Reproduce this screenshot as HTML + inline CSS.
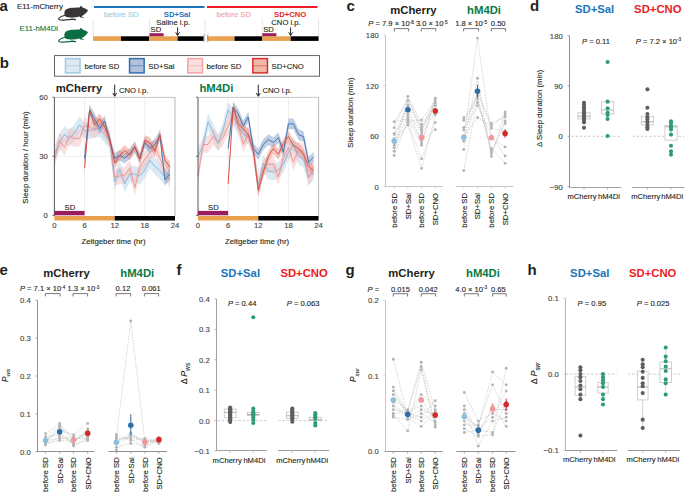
<!DOCTYPE html>
<html><head><meta charset="utf-8"><title>Figure</title><style>html,body{margin:0;padding:0;background:#fff;width:685px;height:492px;overflow:hidden}svg{display:block;font-family:"Liberation Sans",sans-serif}</style></head><body>
<svg width="685" height="492" viewBox="0 0 685 492">
<rect width="685" height="492" fill="#fff"/>
<text x="-0.60" y="10.90" font-family="Liberation Sans" font-size="15" fill="#231f20" font-weight="bold">a</text>
<text x="17.00" y="9.20" font-family="Liberation Sans" font-size="7.8" fill="#231f20" stroke="#231f20" stroke-width="0.12">E11-mCherry</text>
<text x="19.60" y="31.00" font-family="Liberation Sans" font-size="7.8" fill="#0a7a45" stroke="#0a7a45" stroke-width="0.12">E11-hM4Di</text>
<g transform="translate(55,4.0) scale(0.05255)"><path d="M628 125C610 100 575 85 545 78L520 60L500 40L484 38L476 55L470 68C420 70 330 70 270 80C220 88 190 110 180 150C172 190 185 230 215 248C260 262 330 258 400 250L470 240L484 258L548 264L552 250L508 245L514 228C552 210 600 175 628 125Z" fill="#393536"/><path d="M195 215C140 230 80 255 70 280C62 305 120 312 200 302C270 293 330 285 392 297" fill="none" stroke="#393536" stroke-width="22" stroke-linecap="round"/><path d="M290 250L395 290L385 300L300 278Z" fill="#393536" opacity="0.5"/></g>
<g transform="translate(55,26.0) scale(0.05255)"><path d="M628 125C610 100 575 85 545 78L520 60L500 40L484 38L476 55L470 68C420 70 330 70 270 80C220 88 190 110 180 150C172 190 185 230 215 248C260 262 330 258 400 250L470 240L484 258L548 264L552 250L508 245L514 228C552 210 600 175 628 125Z" fill="#0b6d43"/><path d="M195 215C140 230 80 255 70 280C62 305 120 312 200 302C270 293 330 285 392 297" fill="none" stroke="#0b6d43" stroke-width="22" stroke-linecap="round"/><path d="M290 250L395 290L385 300L300 278Z" fill="#0b6d43" opacity="0.5"/></g>
<line x1="94.00" y1="7.00" x2="204.50" y2="7.00" stroke="#1a75bc" stroke-width="2.1"/>
<line x1="207.00" y1="7.00" x2="317.50" y2="7.00" stroke="#ec1c24" stroke-width="2.1"/>
<text x="104.00" y="16.70" font-family="Liberation Sans" font-size="7.7" fill="#9ccbe6" stroke="#9ccbe6" stroke-width="0.12">before SD</text>
<text x="163.80" y="16.70" font-family="Liberation Sans" font-size="7.7" fill="#1a75bc" font-weight="bold">SD+Sal</text>
<text x="216.40" y="16.70" font-family="Liberation Sans" font-size="7.7" fill="#f4a0a3" stroke="#f4a0a3" stroke-width="0.12">before SD</text>
<text x="274.00" y="16.70" font-family="Liberation Sans" font-size="7.7" fill="#ec1c24" font-weight="bold">SD+CNO</text>
<line x1="93.20" y1="19.00" x2="93.20" y2="36.60" stroke="#9a9a9a" stroke-width="0.6" stroke-dasharray="0.8 1.2"/>
<line x1="149.50" y1="19.00" x2="149.50" y2="36.60" stroke="#9a9a9a" stroke-width="0.6" stroke-dasharray="0.8 1.2"/>
<line x1="205.00" y1="19.00" x2="205.00" y2="36.60" stroke="#9a9a9a" stroke-width="0.6" stroke-dasharray="0.8 1.2"/>
<line x1="262.30" y1="19.00" x2="262.30" y2="36.60" stroke="#9a9a9a" stroke-width="0.6" stroke-dasharray="0.8 1.2"/>
<line x1="318.60" y1="19.00" x2="318.60" y2="36.60" stroke="#9a9a9a" stroke-width="0.6" stroke-dasharray="0.8 1.2"/>
<text x="156.30" y="25.20" font-family="Liberation Sans" font-size="7.7" fill="#231f20" stroke="#231f20" stroke-width="0.12">Saline i.p.</text>
<text x="271.30" y="25.20" font-family="Liberation Sans" font-size="7.7" fill="#231f20" stroke="#231f20" stroke-width="0.12">CNO i.p.</text>
<text x="150.60" y="32.00" font-family="Liberation Sans" font-size="7.7" fill="#231f20" stroke="#231f20" stroke-width="0.12">SD</text>
<text x="263.20" y="32.00" font-family="Liberation Sans" font-size="7.7" fill="#231f20" stroke="#231f20" stroke-width="0.12">SD</text>
<rect x="149.50" y="33.20" width="14.10" height="3.30" fill="#9c1d5f"/>
<rect x="262.30" y="33.20" width="14.10" height="3.30" fill="#9c1d5f"/>
<line x1="177.60" y1="27.30" x2="177.60" y2="35.10" stroke="#111" stroke-width="0.9"/>
<path d="M175.70 32.30L177.60 35.60L179.50 32.30" fill="none" stroke="#111" stroke-width="0.9"/>
<line x1="290.60" y1="27.30" x2="290.60" y2="35.10" stroke="#111" stroke-width="0.9"/>
<path d="M288.70 32.30L290.60 35.60L292.50 32.30" fill="none" stroke="#111" stroke-width="0.9"/>
<rect x="93.00" y="36.30" width="28.00" height="4.60" fill="#e9a04f"/>
<rect x="121.00" y="36.30" width="28.30" height="4.60" fill="#000"/>
<rect x="149.30" y="36.30" width="28.30" height="4.60" fill="#e9a04f"/>
<rect x="177.60" y="36.30" width="26.00" height="4.60" fill="#000"/>
<rect x="207.20" y="36.30" width="27.30" height="4.60" fill="#e9a04f"/>
<rect x="234.50" y="36.30" width="27.80" height="4.60" fill="#000"/>
<rect x="262.30" y="36.30" width="28.30" height="4.60" fill="#e9a04f"/>
<rect x="290.60" y="36.30" width="28.00" height="4.60" fill="#000"/>
<path d="M204.4 34.2C203.2 36.5 205.2 39.5 204.0 42.3M208.0 34.2C206.8 36.5 208.8 39.5 207.6 42.3" fill="none" stroke="#666" stroke-width="0.55"/>
<text x="-0.30" y="67.90" font-family="Liberation Sans" font-size="15" fill="#231f20" font-weight="bold">b</text>
<rect x="54.5" y="55.6" width="265" height="20.6" fill="none" stroke="#555" stroke-width="0.9"/>
<rect x="65.45" y="58.6" width="14.6" height="14.3" fill="#dde9f3" stroke="#9ccbe0" stroke-width="1.5"/>
<line x1="66.20" y1="65.75" x2="79.30" y2="65.75" stroke="#a9cbe0" stroke-width="0.8"/>
<rect x="129.55" y="58.6" width="14.6" height="14.3" fill="#b3c0dc" stroke="#2e70ae" stroke-width="1.5"/>
<line x1="130.30" y1="65.75" x2="143.40" y2="65.75" stroke="#5b80b8" stroke-width="0.8"/>
<rect x="187.85" y="58.6" width="14.6" height="14.3" fill="#fbdfdf" stroke="#f5a3a5" stroke-width="1.5"/>
<line x1="188.60" y1="65.75" x2="201.70" y2="65.75" stroke="#f5b0b2" stroke-width="0.8"/>
<rect x="252.85" y="58.6" width="14.6" height="14.3" fill="#f0b9a8" stroke="#d92e2e" stroke-width="1.5"/>
<line x1="253.60" y1="65.75" x2="266.70" y2="65.75" stroke="#d95a4a" stroke-width="0.8"/>
<text x="84.60" y="69.10" font-family="Liberation Sans" font-size="7.7" fill="#231f20" stroke="#231f20" stroke-width="0.12">before SD</text>
<text x="148.30" y="69.10" font-family="Liberation Sans" font-size="7.7" fill="#231f20" stroke="#231f20" stroke-width="0.12">SD+Sal</text>
<text x="206.60" y="69.10" font-family="Liberation Sans" font-size="7.7" fill="#231f20" stroke="#231f20" stroke-width="0.12">before SD</text>
<text x="271.50" y="69.10" font-family="Liberation Sans" font-size="7.7" fill="#231f20" stroke="#231f20" stroke-width="0.12">SD+CNO</text>
<line x1="84.55" y1="97.50" x2="84.55" y2="216.00" stroke="#e6e6e6" stroke-width="0.7"/>
<line x1="114.70" y1="97.50" x2="114.70" y2="216.00" stroke="#e6e6e6" stroke-width="0.7"/>
<line x1="144.85" y1="97.50" x2="144.85" y2="216.00" stroke="#e6e6e6" stroke-width="0.7"/>
<line x1="54.40" y1="156.29" x2="175.00" y2="156.29" stroke="#e6e6e6" stroke-width="0.7"/>
<line x1="54.40" y1="97.40" x2="175.00" y2="97.40" stroke="#bdbdbd" stroke-width="0.9"/>
<line x1="175.00" y1="97.40" x2="175.00" y2="216.00" stroke="#b0b0b0" stroke-width="0.9"/>
<polygon points="54.40,146.06 59.42,134.26 64.45,126.39 69.47,130.33 74.50,124.42 79.53,116.56 84.55,122.46 89.58,122.46 94.60,120.49 99.62,120.49 104.65,126.39 109.68,132.29 114.70,173.60 119.72,160.81 124.75,175.57 129.78,165.73 134.80,165.73 139.83,167.70 144.85,161.80 149.88,151.96 154.90,157.86 159.93,162.78 164.95,168.68 169.97,163.76 169.97,180.29 164.95,185.20 159.93,179.30 154.90,174.39 149.88,168.49 144.85,178.32 139.83,184.22 134.80,182.25 129.78,182.25 124.75,192.09 119.72,177.34 114.70,190.12 109.68,148.82 104.65,142.91 99.62,137.01 94.60,137.01 89.58,138.98 84.55,138.98 79.53,133.08 74.50,140.95 69.47,146.85 64.45,142.91 59.42,150.78 54.40,162.58" fill="#aed0e7" fill-opacity="0.45"/>
<polygon points="54.40,151.96 59.42,132.29 64.45,139.18 69.47,127.38 74.50,130.33 79.53,130.33 84.55,117.54 89.58,118.52 94.60,122.46 99.62,116.56 104.65,122.46 109.68,130.33 114.70,168.68 119.72,167.70 124.75,166.72 129.78,159.83 134.80,179.50 139.83,158.85 144.85,150.98 149.88,144.09 154.90,138.19 159.93,150.00 164.95,161.80 169.97,171.63 169.97,188.16 164.95,178.32 159.93,166.52 154.90,154.72 149.88,160.62 144.85,167.50 139.83,175.37 134.80,196.02 129.78,176.35 124.75,183.24 119.72,184.22 114.70,185.20 109.68,146.85 104.65,138.98 99.62,133.08 94.60,138.98 89.58,135.05 84.55,134.06 79.53,146.85 74.50,146.85 69.47,143.90 64.45,155.70 59.42,148.82 54.40,168.49" fill="#f6baba" fill-opacity="0.45"/>
<polygon points="84.55,152.95 89.58,104.75 94.60,113.61 99.62,123.44 104.65,115.57 109.68,135.24 114.70,152.95 119.72,150.00 124.75,152.95 129.78,148.03 134.80,142.13 139.83,152.95 144.85,137.21 149.88,143.11 154.90,139.18 159.93,130.33 164.95,174.58 169.97,168.68 169.97,179.30 164.95,185.20 159.93,140.95 154.90,149.80 149.88,153.73 144.85,147.83 139.83,163.57 134.80,152.75 129.78,158.65 124.75,163.57 119.72,160.62 114.70,163.57 109.68,145.86 104.65,126.19 99.62,134.06 94.60,124.23 89.58,115.38 84.55,163.57" fill="#7f9bc9" fill-opacity="0.5"/>
<polygon points="84.55,162.78 89.58,104.75 94.60,119.51 99.62,113.61 104.65,121.47 109.68,133.28 114.70,157.86 119.72,150.00 124.75,145.08 129.78,150.00 134.80,141.14 139.83,153.93 144.85,135.24 149.88,137.21 154.90,146.06 159.93,129.34 164.95,154.91 169.97,161.80 169.97,172.42 164.95,165.53 159.93,139.96 154.90,156.68 149.88,147.83 144.85,145.86 139.83,164.55 134.80,151.77 129.78,160.62 124.75,155.70 119.72,160.62 114.70,168.49 109.68,143.90 104.65,132.10 99.62,124.23 94.60,130.13 89.58,115.38 84.55,173.40" fill="#e69080" fill-opacity="0.5"/>
<polyline points="54.40,154.32 59.42,142.52 64.45,134.65 69.47,138.59 74.50,132.69 79.53,124.82 84.55,130.72 89.58,130.72 94.60,128.75 99.62,128.75 104.65,134.65 109.68,140.55 114.70,181.86 119.72,169.08 124.75,183.83 129.78,173.99 134.80,173.99 139.83,175.96 144.85,170.06 149.88,160.22 154.90,166.12 159.93,171.04 164.95,176.94 169.97,172.03" fill="none" stroke="#84b6d8" stroke-width="0.9" stroke-linejoin="round"/>
<polyline points="54.40,160.22 59.42,140.55 64.45,147.44 69.47,135.64 74.50,138.59 79.53,138.59 84.55,125.80 89.58,126.79 94.60,130.72 99.62,124.82 104.65,130.72 109.68,138.59 114.70,176.94 119.72,175.96 124.75,174.98 129.78,168.09 134.80,187.76 139.83,167.11 144.85,159.24 149.88,152.36 154.90,146.46 159.93,158.26 164.95,170.06 169.97,179.89" fill="none" stroke="#ee9090" stroke-width="0.9" stroke-linejoin="round"/>
<polyline points="84.55,158.26 89.58,110.07 94.60,118.92 99.62,128.75 104.65,120.88 109.68,140.55 114.70,158.26 119.72,155.31 124.75,158.26 129.78,153.34 134.80,147.44 139.83,158.26 144.85,142.52 149.88,148.42 154.90,144.49 159.93,135.64 164.95,179.89 169.97,173.99" fill="none" stroke="#3a6fae" stroke-width="0.9" stroke-linejoin="round"/>
<polyline points="84.55,168.09 89.58,110.07 94.60,124.82 99.62,118.92 104.65,126.79 109.68,138.59 114.70,163.17 119.72,155.31 124.75,150.39 129.78,155.31 134.80,146.46 139.83,159.24 144.85,140.55 149.88,142.52 154.90,151.37 159.93,134.65 164.95,160.22 169.97,167.11" fill="none" stroke="#d8483a" stroke-width="0.9" stroke-linejoin="round"/>
<line x1="54.40" y1="97.50" x2="54.40" y2="216.00" stroke="#444" stroke-width="0.9"/>
<line x1="52.40" y1="97.28" x2="54.40" y2="97.28" stroke="#444" stroke-width="0.8"/>
<line x1="52.40" y1="156.29" x2="54.40" y2="156.29" stroke="#444" stroke-width="0.8"/>
<line x1="52.40" y1="215.30" x2="54.40" y2="215.30" stroke="#444" stroke-width="0.8"/>
<text x="47.80" y="100.08" font-family="Liberation Sans" font-size="7.7" fill="#444" text-anchor="end" stroke="#444" stroke-width="0.12">60</text>
<text x="47.80" y="159.09" font-family="Liberation Sans" font-size="7.7" fill="#444" text-anchor="end" stroke="#444" stroke-width="0.12">30</text>
<text x="47.80" y="218.10" font-family="Liberation Sans" font-size="7.7" fill="#444" text-anchor="end" stroke="#444" stroke-width="0.12">0</text>
<rect x="54.40" y="210.90" width="30.15" height="4.40" fill="#9c1d5f"/>
<rect x="54.40" y="216.00" width="60.30" height="4.50" fill="#e9a04f"/>
<rect x="114.70" y="216.00" width="60.30" height="4.50" fill="#000"/>
<text x="64.50" y="210.00" font-family="Liberation Sans" font-size="7.7" fill="#231f20" stroke="#231f20" stroke-width="0.12">SD</text>
<text x="54.40" y="227.90" font-family="Liberation Sans" font-size="7.7" fill="#444" text-anchor="middle" stroke="#444" stroke-width="0.12">0</text>
<text x="84.55" y="227.90" font-family="Liberation Sans" font-size="7.7" fill="#444" text-anchor="middle" stroke="#444" stroke-width="0.12">6</text>
<text x="114.70" y="227.90" font-family="Liberation Sans" font-size="7.7" fill="#444" text-anchor="middle" stroke="#444" stroke-width="0.12">12</text>
<text x="144.85" y="227.90" font-family="Liberation Sans" font-size="7.7" fill="#444" text-anchor="middle" stroke="#444" stroke-width="0.12">18</text>
<text x="175.00" y="227.90" font-family="Liberation Sans" font-size="7.7" fill="#444" text-anchor="middle" stroke="#444" stroke-width="0.12">24</text>
<text x="113.50" y="243.90" font-family="Liberation Sans" font-size="7.8" fill="#231f20" text-anchor="middle" stroke="#231f20" stroke-width="0.12">Zeitgeber time (hr)</text>
<text x="55.80" y="91.70" font-family="Liberation Sans" font-size="11.3" fill="#231f20" font-weight="bold">mCherry</text>
<line x1="114.70" y1="84.60" x2="114.70" y2="95.80" stroke="#111" stroke-width="0.9"/>
<path d="M112.80 93.00L114.70 96.30L116.60 93.00" fill="none" stroke="#111" stroke-width="0.9"/>
<text x="118.90" y="93.20" font-family="Liberation Sans" font-size="7.7" fill="#231f20" stroke="#231f20" stroke-width="0.12">CNO i.p.</text>
<line x1="228.15" y1="97.50" x2="228.15" y2="216.00" stroke="#e6e6e6" stroke-width="0.7"/>
<line x1="258.30" y1="97.50" x2="258.30" y2="216.00" stroke="#e6e6e6" stroke-width="0.7"/>
<line x1="288.45" y1="97.50" x2="288.45" y2="216.00" stroke="#e6e6e6" stroke-width="0.7"/>
<line x1="198.00" y1="156.29" x2="318.60" y2="156.29" stroke="#e6e6e6" stroke-width="0.7"/>
<line x1="198.00" y1="97.40" x2="318.60" y2="97.40" stroke="#bdbdbd" stroke-width="0.9"/>
<line x1="318.60" y1="97.40" x2="318.60" y2="216.00" stroke="#b0b0b0" stroke-width="0.9"/>
<polygon points="198.00,148.03 203.03,137.21 208.05,113.61 213.07,123.44 218.10,135.24 223.12,121.47 228.15,101.80 233.18,108.69 238.20,118.52 243.22,126.39 248.25,127.38 253.28,140.16 258.30,176.55 263.32,154.91 268.35,162.78 273.38,163.76 278.40,161.80 283.43,155.90 288.45,144.09 293.48,136.23 298.50,148.03 303.52,150.98 308.55,168.68 313.57,163.76 313.57,180.29 308.55,185.20 303.52,167.50 298.50,164.55 293.48,152.75 288.45,160.62 283.43,172.42 278.40,178.32 273.38,180.29 268.35,179.30 263.32,171.44 258.30,193.07 253.28,156.68 248.25,143.90 243.22,142.91 238.20,135.05 233.18,125.21 228.15,118.33 223.12,138.00 218.10,151.77 213.07,139.96 208.05,130.13 203.03,153.73 198.00,164.55" fill="#aed0e7" fill-opacity="0.45"/>
<polygon points="198.00,167.70 203.03,136.23 208.05,136.23 213.07,128.36 218.10,134.26 223.12,129.34 228.15,117.54 233.18,105.74 238.20,116.56 243.22,136.23 248.25,125.41 253.28,140.16 258.30,180.48 263.32,159.83 268.35,155.90 273.38,155.90 278.40,168.68 283.43,149.01 288.45,139.18 293.48,153.93 298.50,141.14 303.52,144.09 308.55,169.67 313.57,158.85 313.57,175.37 308.55,186.19 303.52,160.62 298.50,157.67 293.48,170.45 288.45,155.70 283.43,165.53 278.40,185.20 273.38,172.42 268.35,172.42 263.32,176.35 258.30,197.01 253.28,156.68 248.25,141.93 243.22,152.75 238.20,133.08 233.18,122.26 228.15,134.06 223.12,145.86 218.10,150.78 213.07,144.88 208.05,152.75 203.03,152.75 198.00,184.22" fill="#f6baba" fill-opacity="0.45"/>
<polygon points="228.15,143.11 233.18,101.80 238.20,108.69 243.22,120.49 248.25,111.64 253.28,143.11 258.30,149.01 263.32,139.18 268.35,134.26 273.38,137.21 278.40,132.29 283.43,147.05 288.45,118.52 293.48,118.52 298.50,129.34 303.52,131.31 308.55,156.88 313.57,151.96 313.57,162.58 308.55,167.50 303.52,141.93 298.50,139.96 293.48,129.15 288.45,129.15 283.43,157.67 278.40,142.91 273.38,147.83 268.35,144.88 263.32,149.80 258.30,159.63 253.28,153.73 248.25,122.26 243.22,131.11 238.20,119.31 233.18,112.43 228.15,153.73" fill="#7f9bc9" fill-opacity="0.5"/>
<polygon points="228.15,178.52 233.18,101.80 238.20,118.52 243.22,123.44 248.25,129.34 253.28,145.08 258.30,185.40 263.32,166.72 268.35,150.98 273.38,143.11 278.40,149.01 283.43,138.19 288.45,131.31 293.48,140.16 298.50,143.11 303.52,149.01 308.55,160.81 313.57,165.73 313.57,176.35 308.55,171.44 303.52,159.63 298.50,153.73 293.48,150.78 288.45,141.93 283.43,148.82 278.40,159.63 273.38,153.73 268.35,161.60 263.32,177.34 258.30,196.02 253.28,155.70 248.25,139.96 243.22,134.06 238.20,129.15 233.18,112.43 228.15,189.14" fill="#e69080" fill-opacity="0.5"/>
<polyline points="198.00,156.29 203.03,145.47 208.05,121.87 213.07,131.70 218.10,143.50 223.12,129.74 228.15,110.07 233.18,116.95 238.20,126.79 243.22,134.65 248.25,135.64 253.28,148.42 258.30,184.81 263.32,163.17 268.35,171.04 273.38,172.03 278.40,170.06 283.43,164.16 288.45,152.36 293.48,144.49 298.50,156.29 303.52,159.24 308.55,176.94 313.57,172.03" fill="none" stroke="#84b6d8" stroke-width="0.9" stroke-linejoin="round"/>
<polyline points="198.00,175.96 203.03,144.49 208.05,144.49 213.07,136.62 218.10,142.52 223.12,137.60 228.15,125.80 233.18,114.00 238.20,124.82 243.22,144.49 248.25,133.67 253.28,148.42 258.30,188.75 263.32,168.09 268.35,164.16 273.38,164.16 278.40,176.94 283.43,157.27 288.45,147.44 293.48,162.19 298.50,149.41 303.52,152.36 308.55,177.93 313.57,167.11" fill="none" stroke="#ee9090" stroke-width="0.9" stroke-linejoin="round"/>
<polyline points="228.15,148.42 233.18,107.12 238.20,114.00 243.22,125.80 248.25,116.95 253.28,148.42 258.30,154.32 263.32,144.49 268.35,139.57 273.38,142.52 278.40,137.60 283.43,152.36 288.45,123.83 293.48,123.83 298.50,134.65 303.52,136.62 308.55,162.19 313.57,157.27" fill="none" stroke="#3a6fae" stroke-width="0.9" stroke-linejoin="round"/>
<polyline points="228.15,183.83 233.18,107.12 238.20,123.83 243.22,128.75 248.25,134.65 253.28,150.39 258.30,190.71 263.32,172.03 268.35,156.29 273.38,148.42 278.40,154.32 283.43,143.50 288.45,136.62 293.48,145.47 298.50,148.42 303.52,154.32 308.55,166.12 313.57,171.04" fill="none" stroke="#d8483a" stroke-width="0.9" stroke-linejoin="round"/>
<line x1="198.00" y1="97.50" x2="198.00" y2="216.00" stroke="#444" stroke-width="0.9"/>
<line x1="196.00" y1="97.28" x2="198.00" y2="97.28" stroke="#444" stroke-width="0.8"/>
<line x1="196.00" y1="156.29" x2="198.00" y2="156.29" stroke="#444" stroke-width="0.8"/>
<line x1="196.00" y1="215.30" x2="198.00" y2="215.30" stroke="#444" stroke-width="0.8"/>
<rect x="198.00" y="210.90" width="30.15" height="4.40" fill="#9c1d5f"/>
<rect x="198.00" y="216.00" width="60.30" height="4.50" fill="#e9a04f"/>
<rect x="258.30" y="216.00" width="60.30" height="4.50" fill="#000"/>
<text x="208.10" y="210.00" font-family="Liberation Sans" font-size="7.7" fill="#231f20" stroke="#231f20" stroke-width="0.12">SD</text>
<text x="198.00" y="227.90" font-family="Liberation Sans" font-size="7.7" fill="#444" text-anchor="middle" stroke="#444" stroke-width="0.12">0</text>
<text x="228.15" y="227.90" font-family="Liberation Sans" font-size="7.7" fill="#444" text-anchor="middle" stroke="#444" stroke-width="0.12">6</text>
<text x="258.30" y="227.90" font-family="Liberation Sans" font-size="7.7" fill="#444" text-anchor="middle" stroke="#444" stroke-width="0.12">12</text>
<text x="288.45" y="227.90" font-family="Liberation Sans" font-size="7.7" fill="#444" text-anchor="middle" stroke="#444" stroke-width="0.12">18</text>
<text x="318.60" y="227.90" font-family="Liberation Sans" font-size="7.7" fill="#444" text-anchor="middle" stroke="#444" stroke-width="0.12">24</text>
<text x="257.10" y="243.90" font-family="Liberation Sans" font-size="7.8" fill="#231f20" text-anchor="middle" stroke="#231f20" stroke-width="0.12">Zeitgeber time (hr)</text>
<text x="199.40" y="91.70" font-family="Liberation Sans" font-size="11.3" fill="#0a7a45" font-weight="bold">hM4Di</text>
<line x1="258.30" y1="84.60" x2="258.30" y2="95.80" stroke="#111" stroke-width="0.9"/>
<path d="M256.40 93.00L258.30 96.30L260.20 93.00" fill="none" stroke="#111" stroke-width="0.9"/>
<text x="262.50" y="93.20" font-family="Liberation Sans" font-size="7.7" fill="#231f20" stroke="#231f20" stroke-width="0.12">CNO i.p.</text>
<text transform="translate(28.20,157.50) rotate(-90)" font-family="Liberation Sans" font-size="7.8" fill="#231f20" stroke="#231f20" stroke-width="0.12" text-anchor="middle">Sleep duration / hour (min)</text>
<text x="346.60" y="10.90" font-family="Liberation Sans" font-size="15" fill="#231f20" font-weight="bold">c</text>
<text x="390.20" y="13.60" font-family="Liberation Sans" font-size="11.3" fill="#231f20" font-weight="bold">mCherry</text>
<text x="467.10" y="13.60" font-family="Liberation Sans" font-size="11.3" fill="#0a7a45" font-weight="bold">hM4Di</text>
<text x="368.30" y="26.00" font-family="Liberation Sans" font-size="7.6" fill="#231f20" stroke="#231f20" stroke-width="0.12"><tspan font-style="italic">P</tspan> = 7.9 × 10<tspan dy="-2.3" font-size="4.6">-8</tspan><tspan dy="2.3"> 3.0 × 10</tspan><tspan dy="-2.3" font-size="4.6">-5</tspan></text>
<text x="455.20" y="26.00" font-family="Liberation Sans" font-size="7.6" fill="#231f20" stroke="#231f20" stroke-width="0.12">1.8 × 10<tspan dy="-2.3" font-size="4.6">-5</tspan></text>
<text x="490.80" y="26.00" font-family="Liberation Sans" font-size="7.6" fill="#231f20" stroke="#231f20" stroke-width="0.12">0.50</text>
<path d="M394.30 31.40V28.60H408.60V31.40" fill="none" stroke="#555" stroke-width="0.8"/>
<path d="M421.30 31.40V28.60H435.80V31.40" fill="none" stroke="#555" stroke-width="0.8"/>
<path d="M463.60 31.40V28.60H478.60V31.40" fill="none" stroke="#555" stroke-width="0.8"/>
<path d="M491.30 31.40V28.60H505.60V31.40" fill="none" stroke="#555" stroke-width="0.8"/>
<line x1="385.50" y1="35.00" x2="385.50" y2="186.50" stroke="#c6c6c6" stroke-width="1.0"/>
<line x1="383.50" y1="35.00" x2="385.50" y2="35.00" stroke="#c6c6c6" stroke-width="0.8"/>
<text x="378.70" y="38.00" font-family="Liberation Sans" font-size="7.7" fill="#444" text-anchor="end" stroke="#444" stroke-width="0.12">180</text>
<line x1="383.50" y1="85.54" x2="385.50" y2="85.54" stroke="#c6c6c6" stroke-width="0.8"/>
<text x="378.70" y="88.54" font-family="Liberation Sans" font-size="7.7" fill="#444" text-anchor="end" stroke="#444" stroke-width="0.12">120</text>
<line x1="383.50" y1="136.07" x2="385.50" y2="136.07" stroke="#c6c6c6" stroke-width="0.8"/>
<text x="378.70" y="139.07" font-family="Liberation Sans" font-size="7.7" fill="#444" text-anchor="end" stroke="#444" stroke-width="0.12">60</text>
<line x1="383.50" y1="186.60" x2="385.50" y2="186.60" stroke="#c6c6c6" stroke-width="0.8"/>
<text x="378.70" y="189.60" font-family="Liberation Sans" font-size="7.7" fill="#444" text-anchor="end" stroke="#444" stroke-width="0.12">0</text>
<line x1="385.00" y1="186.50" x2="443.20" y2="186.50" stroke="#c6c6c6" stroke-width="1.0"/>
<line x1="455.50" y1="186.50" x2="513.20" y2="186.50" stroke="#c6c6c6" stroke-width="1.0"/>
<line x1="394.20" y1="186.50" x2="394.20" y2="188.50" stroke="#c6c6c6" stroke-width="0.8"/>
<line x1="407.90" y1="186.50" x2="407.90" y2="188.50" stroke="#c6c6c6" stroke-width="0.8"/>
<line x1="421.60" y1="186.50" x2="421.60" y2="188.50" stroke="#c6c6c6" stroke-width="0.8"/>
<line x1="435.30" y1="186.50" x2="435.30" y2="188.50" stroke="#c6c6c6" stroke-width="0.8"/>
<line x1="463.80" y1="186.50" x2="463.80" y2="188.50" stroke="#c6c6c6" stroke-width="0.8"/>
<line x1="477.50" y1="186.50" x2="477.50" y2="188.50" stroke="#c6c6c6" stroke-width="0.8"/>
<line x1="491.40" y1="186.50" x2="491.40" y2="188.50" stroke="#c6c6c6" stroke-width="0.8"/>
<line x1="505.10" y1="186.50" x2="505.10" y2="188.50" stroke="#c6c6c6" stroke-width="0.8"/>
<line x1="394.20" y1="121.75" x2="407.90" y2="100.70" stroke="#b8b8b8" stroke-width="0.55" stroke-dasharray="1.6 1.1"/>
<line x1="394.20" y1="127.65" x2="407.90" y2="96.48" stroke="#b8b8b8" stroke-width="0.55" stroke-dasharray="1.6 1.1"/>
<line x1="394.20" y1="133.54" x2="407.90" y2="114.17" stroke="#b8b8b8" stroke-width="0.55" stroke-dasharray="1.6 1.1"/>
<line x1="394.20" y1="134.38" x2="407.90" y2="106.59" stroke="#b8b8b8" stroke-width="0.55" stroke-dasharray="1.6 1.1"/>
<line x1="394.20" y1="138.59" x2="407.90" y2="125.12" stroke="#b8b8b8" stroke-width="0.55" stroke-dasharray="1.6 1.1"/>
<line x1="394.20" y1="145.33" x2="407.90" y2="116.70" stroke="#b8b8b8" stroke-width="0.55" stroke-dasharray="1.6 1.1"/>
<line x1="394.20" y1="147.86" x2="407.90" y2="122.59" stroke="#b8b8b8" stroke-width="0.55" stroke-dasharray="1.6 1.1"/>
<line x1="394.20" y1="151.23" x2="407.90" y2="96.48" stroke="#b8b8b8" stroke-width="0.55" stroke-dasharray="1.6 1.1"/>
<line x1="394.20" y1="155.44" x2="407.90" y2="120.91" stroke="#b8b8b8" stroke-width="0.55" stroke-dasharray="1.6 1.1"/>
<line x1="394.20" y1="142.81" x2="407.90" y2="104.91" stroke="#b8b8b8" stroke-width="0.55" stroke-dasharray="1.6 1.1"/>
<line x1="394.20" y1="121.75" x2="407.90" y2="119.22" stroke="#b8b8b8" stroke-width="0.55" stroke-dasharray="1.6 1.1"/>
<line x1="407.90" y1="100.70" x2="421.60" y2="126.80" stroke="#b8b8b8" stroke-width="0.55" stroke-dasharray="1.6 1.1"/>
<line x1="407.90" y1="96.48" x2="421.60" y2="133.54" stroke="#b8b8b8" stroke-width="0.55" stroke-dasharray="1.6 1.1"/>
<line x1="407.90" y1="114.17" x2="421.60" y2="131.01" stroke="#b8b8b8" stroke-width="0.55" stroke-dasharray="1.6 1.1"/>
<line x1="407.90" y1="106.59" x2="421.60" y2="143.65" stroke="#b8b8b8" stroke-width="0.55" stroke-dasharray="1.6 1.1"/>
<line x1="407.90" y1="125.12" x2="421.60" y2="168.41" stroke="#b8b8b8" stroke-width="0.55" stroke-dasharray="1.6 1.1"/>
<line x1="407.90" y1="116.70" x2="421.60" y2="141.12" stroke="#b8b8b8" stroke-width="0.55" stroke-dasharray="1.6 1.1"/>
<line x1="407.90" y1="122.59" x2="421.60" y2="158.81" stroke="#b8b8b8" stroke-width="0.55" stroke-dasharray="1.6 1.1"/>
<line x1="407.90" y1="96.48" x2="421.60" y2="124.28" stroke="#b8b8b8" stroke-width="0.55" stroke-dasharray="1.6 1.1"/>
<line x1="407.90" y1="120.91" x2="421.60" y2="120.07" stroke="#b8b8b8" stroke-width="0.55" stroke-dasharray="1.6 1.1"/>
<line x1="407.90" y1="104.91" x2="421.60" y2="128.91" stroke="#b8b8b8" stroke-width="0.55" stroke-dasharray="1.6 1.1"/>
<line x1="407.90" y1="119.22" x2="421.60" y2="145.33" stroke="#b8b8b8" stroke-width="0.55" stroke-dasharray="1.6 1.1"/>
<line x1="421.60" y1="126.80" x2="435.30" y2="109.12" stroke="#b8b8b8" stroke-width="0.55" stroke-dasharray="1.6 1.1"/>
<line x1="421.60" y1="133.54" x2="435.30" y2="112.49" stroke="#b8b8b8" stroke-width="0.55" stroke-dasharray="1.6 1.1"/>
<line x1="421.60" y1="131.01" x2="435.30" y2="103.22" stroke="#b8b8b8" stroke-width="0.55" stroke-dasharray="1.6 1.1"/>
<line x1="421.60" y1="143.65" x2="435.30" y2="98.17" stroke="#b8b8b8" stroke-width="0.55" stroke-dasharray="1.6 1.1"/>
<line x1="421.60" y1="168.41" x2="435.30" y2="115.01" stroke="#b8b8b8" stroke-width="0.55" stroke-dasharray="1.6 1.1"/>
<line x1="421.60" y1="141.12" x2="435.30" y2="129.67" stroke="#b8b8b8" stroke-width="0.55" stroke-dasharray="1.6 1.1"/>
<line x1="421.60" y1="158.81" x2="435.30" y2="122.59" stroke="#b8b8b8" stroke-width="0.55" stroke-dasharray="1.6 1.1"/>
<line x1="421.60" y1="124.28" x2="435.30" y2="105.75" stroke="#b8b8b8" stroke-width="0.55" stroke-dasharray="1.6 1.1"/>
<line x1="421.60" y1="120.07" x2="435.30" y2="100.70" stroke="#b8b8b8" stroke-width="0.55" stroke-dasharray="1.6 1.1"/>
<line x1="421.60" y1="128.91" x2="435.30" y2="98.17" stroke="#b8b8b8" stroke-width="0.55" stroke-dasharray="1.6 1.1"/>
<line x1="421.60" y1="145.33" x2="435.30" y2="98.17" stroke="#b8b8b8" stroke-width="0.55" stroke-dasharray="1.6 1.1"/>
<circle cx="394.20" cy="121.75" r="1.45" fill="#b4b4b4"/>
<circle cx="394.20" cy="127.65" r="1.45" fill="#b4b4b4"/>
<circle cx="394.20" cy="133.54" r="1.45" fill="#b4b4b4"/>
<circle cx="394.20" cy="134.38" r="1.45" fill="#b4b4b4"/>
<circle cx="394.20" cy="138.59" r="1.45" fill="#b4b4b4"/>
<circle cx="394.20" cy="145.33" r="1.45" fill="#b4b4b4"/>
<circle cx="394.20" cy="147.86" r="1.45" fill="#b4b4b4"/>
<circle cx="394.20" cy="151.23" r="1.45" fill="#b4b4b4"/>
<circle cx="394.20" cy="155.44" r="1.45" fill="#b4b4b4"/>
<circle cx="394.20" cy="142.81" r="1.45" fill="#b4b4b4"/>
<circle cx="407.90" cy="96.48" r="1.45" fill="#b4b4b4"/>
<circle cx="407.90" cy="100.70" r="1.45" fill="#b4b4b4"/>
<circle cx="407.90" cy="104.91" r="1.45" fill="#b4b4b4"/>
<circle cx="407.90" cy="114.17" r="1.45" fill="#b4b4b4"/>
<circle cx="407.90" cy="116.70" r="1.45" fill="#b4b4b4"/>
<circle cx="407.90" cy="119.22" r="1.45" fill="#b4b4b4"/>
<circle cx="407.90" cy="120.91" r="1.45" fill="#b4b4b4"/>
<circle cx="407.90" cy="122.59" r="1.45" fill="#b4b4b4"/>
<circle cx="407.90" cy="125.12" r="1.45" fill="#b4b4b4"/>
<circle cx="407.90" cy="106.59" r="1.45" fill="#b4b4b4"/>
<circle cx="421.60" cy="120.07" r="1.45" fill="#b4b4b4"/>
<circle cx="421.60" cy="124.28" r="1.45" fill="#b4b4b4"/>
<circle cx="421.60" cy="126.80" r="1.45" fill="#b4b4b4"/>
<circle cx="421.60" cy="128.91" r="1.45" fill="#b4b4b4"/>
<circle cx="421.60" cy="131.01" r="1.45" fill="#b4b4b4"/>
<circle cx="421.60" cy="133.54" r="1.45" fill="#b4b4b4"/>
<circle cx="421.60" cy="141.12" r="1.45" fill="#b4b4b4"/>
<circle cx="421.60" cy="143.65" r="1.45" fill="#b4b4b4"/>
<circle cx="421.60" cy="145.33" r="1.45" fill="#b4b4b4"/>
<circle cx="421.60" cy="158.81" r="1.45" fill="#b4b4b4"/>
<circle cx="421.60" cy="168.41" r="1.45" fill="#b4b4b4"/>
<circle cx="435.30" cy="98.17" r="1.45" fill="#b4b4b4"/>
<circle cx="435.30" cy="100.70" r="1.45" fill="#b4b4b4"/>
<circle cx="435.30" cy="103.22" r="1.45" fill="#b4b4b4"/>
<circle cx="435.30" cy="105.75" r="1.45" fill="#b4b4b4"/>
<circle cx="435.30" cy="115.01" r="1.45" fill="#b4b4b4"/>
<circle cx="435.30" cy="122.59" r="1.45" fill="#b4b4b4"/>
<circle cx="435.30" cy="129.67" r="1.45" fill="#b4b4b4"/>
<circle cx="435.30" cy="109.12" r="1.45" fill="#b4b4b4"/>
<circle cx="435.30" cy="112.49" r="1.45" fill="#b4b4b4"/>
<circle cx="394.20" cy="141.12" r="2.8" fill="#8dc0dc"/>
<circle cx="407.90" cy="109.71" r="2.8" fill="#2b6ea8"/>
<circle cx="421.60" cy="137.42" r="2.8" fill="#f4959a"/>
<circle cx="435.30" cy="110.97" r="2.8" fill="#d42a2a"/>
<line x1="463.80" y1="117.79" x2="477.50" y2="102.38" stroke="#b8b8b8" stroke-width="0.55" stroke-dasharray="1.6 1.1"/>
<line x1="463.80" y1="120.23" x2="477.50" y2="95.64" stroke="#b8b8b8" stroke-width="0.55" stroke-dasharray="1.6 1.1"/>
<line x1="463.80" y1="127.48" x2="477.50" y2="93.96" stroke="#b8b8b8" stroke-width="0.55" stroke-dasharray="1.6 1.1"/>
<line x1="463.80" y1="130.00" x2="477.50" y2="105.58" stroke="#b8b8b8" stroke-width="0.55" stroke-dasharray="1.6 1.1"/>
<line x1="463.80" y1="141.29" x2="477.50" y2="78.29" stroke="#b8b8b8" stroke-width="0.55" stroke-dasharray="1.6 1.1"/>
<line x1="463.80" y1="149.46" x2="477.50" y2="89.75" stroke="#b8b8b8" stroke-width="0.55" stroke-dasharray="1.6 1.1"/>
<line x1="463.80" y1="170.60" x2="477.50" y2="99.01" stroke="#b8b8b8" stroke-width="0.55" stroke-dasharray="1.6 1.1"/>
<line x1="463.80" y1="136.07" x2="477.50" y2="117.79" stroke="#b8b8b8" stroke-width="0.55" stroke-dasharray="1.6 1.1"/>
<line x1="463.80" y1="138.59" x2="477.50" y2="38.12" stroke="#b8b8b8" stroke-width="0.55" stroke-dasharray="1.6 1.1"/>
<line x1="477.50" y1="102.38" x2="491.40" y2="148.70" stroke="#b8b8b8" stroke-width="0.55" stroke-dasharray="1.6 1.1"/>
<line x1="477.50" y1="95.64" x2="491.40" y2="153.50" stroke="#b8b8b8" stroke-width="0.55" stroke-dasharray="1.6 1.1"/>
<line x1="477.50" y1="93.96" x2="491.40" y2="123.52" stroke="#b8b8b8" stroke-width="0.55" stroke-dasharray="1.6 1.1"/>
<line x1="477.50" y1="105.58" x2="491.40" y2="136.07" stroke="#b8b8b8" stroke-width="0.55" stroke-dasharray="1.6 1.1"/>
<line x1="477.50" y1="78.29" x2="491.40" y2="156.53" stroke="#b8b8b8" stroke-width="0.55" stroke-dasharray="1.6 1.1"/>
<line x1="477.50" y1="89.75" x2="491.40" y2="128.32" stroke="#b8b8b8" stroke-width="0.55" stroke-dasharray="1.6 1.1"/>
<line x1="477.50" y1="99.01" x2="491.40" y2="151.06" stroke="#b8b8b8" stroke-width="0.55" stroke-dasharray="1.6 1.1"/>
<line x1="477.50" y1="117.79" x2="491.40" y2="125.88" stroke="#b8b8b8" stroke-width="0.55" stroke-dasharray="1.6 1.1"/>
<line x1="477.50" y1="38.12" x2="491.40" y2="137.75" stroke="#b8b8b8" stroke-width="0.55" stroke-dasharray="1.6 1.1"/>
<line x1="491.40" y1="148.70" x2="505.10" y2="163.27" stroke="#b8b8b8" stroke-width="0.55" stroke-dasharray="1.6 1.1"/>
<line x1="491.40" y1="153.50" x2="505.10" y2="120.99" stroke="#b8b8b8" stroke-width="0.55" stroke-dasharray="1.6 1.1"/>
<line x1="491.40" y1="123.52" x2="505.10" y2="117.03" stroke="#b8b8b8" stroke-width="0.55" stroke-dasharray="1.6 1.1"/>
<line x1="491.40" y1="136.07" x2="505.10" y2="156.03" stroke="#b8b8b8" stroke-width="0.55" stroke-dasharray="1.6 1.1"/>
<line x1="491.40" y1="156.53" x2="505.10" y2="112.07" stroke="#b8b8b8" stroke-width="0.55" stroke-dasharray="1.6 1.1"/>
<line x1="491.40" y1="128.32" x2="505.10" y2="131.01" stroke="#b8b8b8" stroke-width="0.55" stroke-dasharray="1.6 1.1"/>
<line x1="491.40" y1="151.06" x2="505.10" y2="123.52" stroke="#b8b8b8" stroke-width="0.55" stroke-dasharray="1.6 1.1"/>
<line x1="491.40" y1="125.88" x2="505.10" y2="114.51" stroke="#b8b8b8" stroke-width="0.55" stroke-dasharray="1.6 1.1"/>
<line x1="491.40" y1="137.75" x2="505.10" y2="147.02" stroke="#b8b8b8" stroke-width="0.55" stroke-dasharray="1.6 1.1"/>
<circle cx="463.80" cy="117.79" r="1.45" fill="#b4b4b4"/>
<circle cx="463.80" cy="120.23" r="1.45" fill="#b4b4b4"/>
<circle cx="463.80" cy="127.48" r="1.45" fill="#b4b4b4"/>
<circle cx="463.80" cy="130.00" r="1.45" fill="#b4b4b4"/>
<circle cx="463.80" cy="141.29" r="1.45" fill="#b4b4b4"/>
<circle cx="463.80" cy="149.46" r="1.45" fill="#b4b4b4"/>
<circle cx="463.80" cy="170.60" r="1.45" fill="#b4b4b4"/>
<circle cx="463.80" cy="136.07" r="1.45" fill="#b4b4b4"/>
<circle cx="463.80" cy="138.59" r="1.45" fill="#b4b4b4"/>
<circle cx="477.50" cy="38.12" r="1.45" fill="#b4b4b4"/>
<circle cx="477.50" cy="78.29" r="1.45" fill="#b4b4b4"/>
<circle cx="477.50" cy="105.58" r="1.45" fill="#b4b4b4"/>
<circle cx="477.50" cy="117.79" r="1.45" fill="#b4b4b4"/>
<circle cx="477.50" cy="89.75" r="1.45" fill="#b4b4b4"/>
<circle cx="477.50" cy="93.96" r="1.45" fill="#b4b4b4"/>
<circle cx="477.50" cy="95.64" r="1.45" fill="#b4b4b4"/>
<circle cx="477.50" cy="102.38" r="1.45" fill="#b4b4b4"/>
<circle cx="477.50" cy="99.01" r="1.45" fill="#b4b4b4"/>
<circle cx="491.40" cy="123.52" r="1.45" fill="#b4b4b4"/>
<circle cx="491.40" cy="125.88" r="1.45" fill="#b4b4b4"/>
<circle cx="491.40" cy="128.32" r="1.45" fill="#b4b4b4"/>
<circle cx="491.40" cy="148.70" r="1.45" fill="#b4b4b4"/>
<circle cx="491.40" cy="151.06" r="1.45" fill="#b4b4b4"/>
<circle cx="491.40" cy="153.50" r="1.45" fill="#b4b4b4"/>
<circle cx="491.40" cy="156.53" r="1.45" fill="#b4b4b4"/>
<circle cx="491.40" cy="136.07" r="1.45" fill="#b4b4b4"/>
<circle cx="491.40" cy="137.75" r="1.45" fill="#b4b4b4"/>
<circle cx="505.10" cy="112.07" r="1.45" fill="#b4b4b4"/>
<circle cx="505.10" cy="114.51" r="1.45" fill="#b4b4b4"/>
<circle cx="505.10" cy="117.03" r="1.45" fill="#b4b4b4"/>
<circle cx="505.10" cy="120.99" r="1.45" fill="#b4b4b4"/>
<circle cx="505.10" cy="123.52" r="1.45" fill="#b4b4b4"/>
<circle cx="505.10" cy="147.02" r="1.45" fill="#b4b4b4"/>
<circle cx="505.10" cy="156.03" r="1.45" fill="#b4b4b4"/>
<circle cx="505.10" cy="163.27" r="1.45" fill="#b4b4b4"/>
<circle cx="505.10" cy="131.01" r="1.45" fill="#b4b4b4"/>
<circle cx="463.80" cy="137.33" r="2.8" fill="#8dc0dc"/>
<line x1="477.50" y1="97.75" x2="477.50" y2="84.69" stroke="#2b6ea8" stroke-width="1.0"/>
<circle cx="477.50" cy="91.18" r="2.8" fill="#2b6ea8"/>
<circle cx="491.40" cy="137.84" r="2.8" fill="#f4959a"/>
<line x1="505.10" y1="137.75" x2="505.10" y2="129.33" stroke="#d42a2a" stroke-width="1.0"/>
<circle cx="505.10" cy="133.54" r="2.8" fill="#d42a2a"/>
<text transform="translate(397.00,193.00) rotate(-90)" font-family="Liberation Sans" font-size="7.7" fill="#231f20" stroke="#231f20" stroke-width="0.12" text-anchor="end">before SD</text>
<text transform="translate(410.70,193.00) rotate(-90)" font-family="Liberation Sans" font-size="7.7" fill="#231f20" stroke="#231f20" stroke-width="0.12" text-anchor="end">SD+Sal</text>
<text transform="translate(424.40,193.00) rotate(-90)" font-family="Liberation Sans" font-size="7.7" fill="#231f20" stroke="#231f20" stroke-width="0.12" text-anchor="end">before SD</text>
<text transform="translate(438.10,193.00) rotate(-90)" font-family="Liberation Sans" font-size="7.7" fill="#231f20" stroke="#231f20" stroke-width="0.12" text-anchor="end">SD+CNO</text>
<text transform="translate(466.60,193.00) rotate(-90)" font-family="Liberation Sans" font-size="7.7" fill="#231f20" stroke="#231f20" stroke-width="0.12" text-anchor="end">before SD</text>
<text transform="translate(480.30,193.00) rotate(-90)" font-family="Liberation Sans" font-size="7.7" fill="#231f20" stroke="#231f20" stroke-width="0.12" text-anchor="end">SD+Sal</text>
<text transform="translate(494.20,193.00) rotate(-90)" font-family="Liberation Sans" font-size="7.7" fill="#231f20" stroke="#231f20" stroke-width="0.12" text-anchor="end">before SD</text>
<text transform="translate(507.90,193.00) rotate(-90)" font-family="Liberation Sans" font-size="7.7" fill="#231f20" stroke="#231f20" stroke-width="0.12" text-anchor="end">SD+CNO</text>
<text transform="translate(353.20,112.60) rotate(-90)" font-family="Liberation Sans" font-size="7.8" fill="#231f20" stroke="#231f20" stroke-width="0.12" text-anchor="middle">Sleep duration (min)</text>
<text x="529.90" y="11.00" font-family="Liberation Sans" font-size="15" fill="#231f20" font-weight="bold">d</text>
<text x="575.00" y="12.90" font-family="Liberation Sans" font-size="11.3" fill="#1a75bc" font-weight="bold">SD+Sal</text>
<text x="634.10" y="12.90" font-family="Liberation Sans" font-size="11.3" fill="#ec1c24" font-weight="bold">SD+CNO</text>
<text x="582.00" y="43.60" font-family="Liberation Sans" font-size="7.6" fill="#231f20" stroke="#231f20" stroke-width="0.12"><tspan font-style="italic">P</tspan> = 0.11</text>
<text x="635.70" y="43.60" font-family="Liberation Sans" font-size="7.6" fill="#231f20" stroke="#231f20" stroke-width="0.12"><tspan font-style="italic">P</tspan> = 7.2 × 10<tspan dy="-2.3" font-size="4.6">-3</tspan></text>
<line x1="569.50" y1="35.70" x2="569.50" y2="187.50" stroke="#8e8e8e" stroke-width="1.0"/>
<line x1="567.50" y1="35.70" x2="569.50" y2="35.70" stroke="#8e8e8e" stroke-width="0.8"/>
<text x="562.70" y="38.70" font-family="Liberation Sans" font-size="7.7" fill="#444" text-anchor="end" stroke="#444" stroke-width="0.12">180</text>
<line x1="567.50" y1="86.00" x2="569.50" y2="86.00" stroke="#8e8e8e" stroke-width="0.8"/>
<text x="562.70" y="89.00" font-family="Liberation Sans" font-size="7.7" fill="#444" text-anchor="end" stroke="#444" stroke-width="0.12">90</text>
<line x1="567.50" y1="136.30" x2="569.50" y2="136.30" stroke="#8e8e8e" stroke-width="0.8"/>
<text x="562.70" y="139.30" font-family="Liberation Sans" font-size="7.7" fill="#444" text-anchor="end" stroke="#444" stroke-width="0.12">0</text>
<line x1="567.50" y1="186.60" x2="569.50" y2="186.60" stroke="#8e8e8e" stroke-width="0.8"/>
<text x="562.70" y="189.60" font-family="Liberation Sans" font-size="7.7" fill="#444" text-anchor="end" stroke="#444" stroke-width="0.12">−90</text>
<line x1="569.00" y1="187.50" x2="621.30" y2="187.50" stroke="#a2a2a2" stroke-width="1.0"/>
<line x1="631.80" y1="187.50" x2="684.40" y2="187.50" stroke="#a2a2a2" stroke-width="1.0"/>
<line x1="584.00" y1="187.50" x2="584.00" y2="189.50" stroke="#a2a2a2" stroke-width="0.8"/>
<line x1="607.60" y1="187.50" x2="607.60" y2="189.50" stroke="#a2a2a2" stroke-width="0.8"/>
<line x1="647.40" y1="187.50" x2="647.40" y2="189.50" stroke="#a2a2a2" stroke-width="0.8"/>
<line x1="671.00" y1="187.50" x2="671.00" y2="189.50" stroke="#a2a2a2" stroke-width="0.8"/>
<line x1="571.50" y1="136.30" x2="620.50" y2="136.30" stroke="#b0b0b0" stroke-width="0.7" stroke-dasharray="2.2 2"/>
<line x1="632.50" y1="136.30" x2="684.40" y2="136.30" stroke="#b0b0b0" stroke-width="0.7" stroke-dasharray="2.2 2"/>
<rect x="577.90" y="112.83" width="12.20" height="6.15" fill="#fff" stroke="#c4c4c4" stroke-width="0.8"/>
<line x1="577.90" y1="116.18" x2="590.10" y2="116.18" stroke="#a8a8a8" stroke-width="0.9"/>
<circle cx="584.00" cy="102.88" r="2.05" fill="#5d5d63"/>
<circle cx="584.00" cy="104.44" r="2.05" fill="#5d5d63"/>
<circle cx="584.00" cy="107.13" r="2.05" fill="#5d5d63"/>
<circle cx="584.00" cy="109.92" r="2.05" fill="#5d5d63"/>
<circle cx="584.00" cy="111.71" r="2.05" fill="#5d5d63"/>
<circle cx="584.00" cy="113.50" r="2.05" fill="#5d5d63"/>
<circle cx="584.00" cy="115.40" r="2.05" fill="#5d5d63"/>
<circle cx="584.00" cy="117.30" r="2.05" fill="#5d5d63"/>
<circle cx="584.00" cy="118.08" r="2.05" fill="#5d5d63"/>
<circle cx="584.00" cy="119.92" r="2.05" fill="#5d5d63"/>
<circle cx="584.00" cy="122.33" r="2.05" fill="#5d5d63"/>
<circle cx="584.00" cy="127.80" r="2.05" fill="#5d5d63"/>
<rect x="601.50" y="101.65" width="12.20" height="12.30" fill="#fff" stroke="#c4c4c4" stroke-width="0.8"/>
<line x1="601.50" y1="110.03" x2="613.70" y2="110.03" stroke="#a8a8a8" stroke-width="0.9"/>
<circle cx="607.60" cy="61.97" r="2.05" fill="#2f9b72"/>
<circle cx="607.60" cy="101.65" r="2.05" fill="#2f9b72"/>
<circle cx="607.60" cy="108.36" r="2.05" fill="#2f9b72"/>
<circle cx="607.60" cy="112.83" r="2.05" fill="#2f9b72"/>
<circle cx="607.60" cy="115.06" r="2.05" fill="#2f9b72"/>
<circle cx="607.60" cy="118.97" r="2.05" fill="#2f9b72"/>
<circle cx="607.60" cy="136.02" r="2.05" fill="#2f9b72"/>
<rect x="641.30" y="116.18" width="12.20" height="8.66" fill="#fff" stroke="#c4c4c4" stroke-width="0.8"/>
<line x1="641.30" y1="121.77" x2="653.50" y2="121.77" stroke="#a8a8a8" stroke-width="0.9"/>
<circle cx="647.40" cy="89.35" r="2.05" fill="#5d5d63"/>
<circle cx="647.40" cy="107.80" r="2.05" fill="#5d5d63"/>
<circle cx="647.40" cy="113.94" r="2.05" fill="#5d5d63"/>
<circle cx="647.40" cy="117.30" r="2.05" fill="#5d5d63"/>
<circle cx="647.40" cy="119.53" r="2.05" fill="#5d5d63"/>
<circle cx="647.40" cy="122.33" r="2.05" fill="#5d5d63"/>
<circle cx="647.40" cy="125.12" r="2.05" fill="#5d5d63"/>
<circle cx="647.40" cy="127.36" r="2.05" fill="#5d5d63"/>
<circle cx="647.40" cy="129.03" r="2.05" fill="#5d5d63"/>
<rect x="664.90" y="125.40" width="12.20" height="14.81" fill="#fff" stroke="#c4c4c4" stroke-width="0.8"/>
<line x1="664.90" y1="126.80" x2="677.10" y2="126.80" stroke="#a8a8a8" stroke-width="0.9"/>
<circle cx="671.00" cy="121.21" r="2.05" fill="#2f9b72"/>
<circle cx="671.00" cy="122.89" r="2.05" fill="#2f9b72"/>
<circle cx="671.00" cy="125.68" r="2.05" fill="#2f9b72"/>
<circle cx="671.00" cy="127.36" r="2.05" fill="#2f9b72"/>
<circle cx="671.00" cy="129.59" r="2.05" fill="#2f9b72"/>
<circle cx="671.00" cy="134.62" r="2.05" fill="#2f9b72"/>
<circle cx="671.00" cy="145.80" r="2.05" fill="#2f9b72"/>
<circle cx="671.00" cy="151.39" r="2.05" fill="#2f9b72"/>
<circle cx="671.00" cy="154.74" r="2.05" fill="#2f9b72"/>
<text x="567.40" y="199.00" font-family="Liberation Sans" font-size="7.6" fill="#231f20" stroke="#231f20" stroke-width="0.12">mCherry</text>
<text x="598.00" y="199.00" font-family="Liberation Sans" font-size="7.6" fill="#231f20" stroke="#231f20" stroke-width="0.12">hM4Di</text>
<text x="631.30" y="199.00" font-family="Liberation Sans" font-size="7.6" fill="#231f20" stroke="#231f20" stroke-width="0.12">mCherry</text>
<text x="661.20" y="199.00" font-family="Liberation Sans" font-size="7.6" fill="#231f20" stroke="#231f20" stroke-width="0.12">hM4Di</text>
<text transform="translate(542.40,108.30) rotate(-90)" font-family="Liberation Sans" font-size="7.8" fill="#231f20" stroke="#231f20" stroke-width="0.12" text-anchor="middle">Δ Sleep duration (min)</text>
<text x="-0.60" y="275.40" font-family="Liberation Sans" font-size="15" fill="#231f20" font-weight="bold">e</text>
<text x="43.30" y="277.00" font-family="Liberation Sans" font-size="11.3" fill="#231f20" font-weight="bold">mCherry</text>
<text x="120.30" y="277.00" font-family="Liberation Sans" font-size="11.3" fill="#0a7a45" font-weight="bold">hM4Di</text>
<text x="19.90" y="291.30" font-family="Liberation Sans" font-size="7.6" fill="#231f20" stroke="#231f20" stroke-width="0.12"><tspan font-style="italic">P</tspan> = 7.1 × 10<tspan dy="-2.3" font-size="4.6">-4</tspan><tspan dy="2.3"> 1.3 × 10</tspan><tspan dy="-2.3" font-size="4.6">-3</tspan></text>
<text x="115.60" y="291.30" font-family="Liberation Sans" font-size="7.6" fill="#231f20" stroke="#231f20" stroke-width="0.12">0.12</text>
<text x="141.80" y="291.30" font-family="Liberation Sans" font-size="7.6" fill="#231f20" stroke="#231f20" stroke-width="0.12">0.061</text>
<path d="M45.30 296.40V293.60H60.10V296.40" fill="none" stroke="#555" stroke-width="0.8"/>
<path d="M73.00 296.40V293.60H87.60V296.40" fill="none" stroke="#555" stroke-width="0.8"/>
<path d="M116.10 296.40V293.60H130.60V296.40" fill="none" stroke="#555" stroke-width="0.8"/>
<path d="M144.40 296.40V293.60H158.60V296.40" fill="none" stroke="#555" stroke-width="0.8"/>
<line x1="37.50" y1="300.30" x2="37.50" y2="451.50" stroke="#909090" stroke-width="1.0"/>
<line x1="35.50" y1="300.20" x2="37.50" y2="300.20" stroke="#909090" stroke-width="0.8"/>
<text x="30.70" y="303.20" font-family="Liberation Sans" font-size="7.7" fill="#444" text-anchor="end" stroke="#444" stroke-width="0.12">0.4</text>
<line x1="35.50" y1="338.10" x2="37.50" y2="338.10" stroke="#909090" stroke-width="0.8"/>
<text x="30.70" y="341.10" font-family="Liberation Sans" font-size="7.7" fill="#444" text-anchor="end" stroke="#444" stroke-width="0.12">0.3</text>
<line x1="35.50" y1="376.00" x2="37.50" y2="376.00" stroke="#909090" stroke-width="0.8"/>
<text x="30.70" y="379.00" font-family="Liberation Sans" font-size="7.7" fill="#444" text-anchor="end" stroke="#444" stroke-width="0.12">0.2</text>
<line x1="35.50" y1="413.90" x2="37.50" y2="413.90" stroke="#909090" stroke-width="0.8"/>
<text x="30.70" y="416.90" font-family="Liberation Sans" font-size="7.7" fill="#444" text-anchor="end" stroke="#444" stroke-width="0.12">0.1</text>
<line x1="35.50" y1="451.80" x2="37.50" y2="451.80" stroke="#909090" stroke-width="0.8"/>
<text x="30.70" y="454.80" font-family="Liberation Sans" font-size="7.7" fill="#444" text-anchor="end" stroke="#444" stroke-width="0.12">0.0</text>
<line x1="37.00" y1="451.50" x2="94.50" y2="451.50" stroke="#909090" stroke-width="1.0"/>
<line x1="108.40" y1="451.50" x2="166.90" y2="451.50" stroke="#909090" stroke-width="1.0"/>
<line x1="45.60" y1="451.50" x2="45.60" y2="453.50" stroke="#909090" stroke-width="0.8"/>
<line x1="59.70" y1="451.50" x2="59.70" y2="453.50" stroke="#909090" stroke-width="0.8"/>
<line x1="73.60" y1="451.50" x2="73.60" y2="453.50" stroke="#909090" stroke-width="0.8"/>
<line x1="87.70" y1="451.50" x2="87.70" y2="453.50" stroke="#909090" stroke-width="0.8"/>
<line x1="116.40" y1="451.50" x2="116.40" y2="453.50" stroke="#909090" stroke-width="0.8"/>
<line x1="130.80" y1="451.50" x2="130.80" y2="453.50" stroke="#909090" stroke-width="0.8"/>
<line x1="144.90" y1="451.50" x2="144.90" y2="453.50" stroke="#909090" stroke-width="0.8"/>
<line x1="158.90" y1="451.50" x2="158.90" y2="453.50" stroke="#909090" stroke-width="0.8"/>
<line x1="45.60" y1="433.61" x2="59.70" y2="423.38" stroke="#b8b8b8" stroke-width="0.55" stroke-dasharray="1.6 1.1"/>
<line x1="45.60" y1="436.64" x2="59.70" y2="434.75" stroke="#b8b8b8" stroke-width="0.55" stroke-dasharray="1.6 1.1"/>
<line x1="45.60" y1="438.54" x2="59.70" y2="425.27" stroke="#b8b8b8" stroke-width="0.55" stroke-dasharray="1.6 1.1"/>
<line x1="45.60" y1="439.67" x2="59.70" y2="432.85" stroke="#b8b8b8" stroke-width="0.55" stroke-dasharray="1.6 1.1"/>
<line x1="45.60" y1="441.19" x2="59.70" y2="429.82" stroke="#b8b8b8" stroke-width="0.55" stroke-dasharray="1.6 1.1"/>
<line x1="45.60" y1="442.32" x2="59.70" y2="427.17" stroke="#b8b8b8" stroke-width="0.55" stroke-dasharray="1.6 1.1"/>
<line x1="45.60" y1="443.46" x2="59.70" y2="440.43" stroke="#b8b8b8" stroke-width="0.55" stroke-dasharray="1.6 1.1"/>
<line x1="45.60" y1="444.98" x2="59.70" y2="436.64" stroke="#b8b8b8" stroke-width="0.55" stroke-dasharray="1.6 1.1"/>
<line x1="45.60" y1="440.43" x2="59.70" y2="438.54" stroke="#b8b8b8" stroke-width="0.55" stroke-dasharray="1.6 1.1"/>
<line x1="59.70" y1="423.38" x2="73.60" y2="440.43" stroke="#b8b8b8" stroke-width="0.55" stroke-dasharray="1.6 1.1"/>
<line x1="59.70" y1="434.75" x2="73.60" y2="443.46" stroke="#b8b8b8" stroke-width="0.55" stroke-dasharray="1.6 1.1"/>
<line x1="59.70" y1="425.27" x2="73.60" y2="446.12" stroke="#b8b8b8" stroke-width="0.55" stroke-dasharray="1.6 1.1"/>
<line x1="59.70" y1="432.85" x2="73.60" y2="444.98" stroke="#b8b8b8" stroke-width="0.55" stroke-dasharray="1.6 1.1"/>
<line x1="59.70" y1="429.82" x2="73.60" y2="434.75" stroke="#b8b8b8" stroke-width="0.55" stroke-dasharray="1.6 1.1"/>
<line x1="59.70" y1="427.17" x2="73.60" y2="436.64" stroke="#b8b8b8" stroke-width="0.55" stroke-dasharray="1.6 1.1"/>
<line x1="59.70" y1="440.43" x2="73.60" y2="441.57" stroke="#b8b8b8" stroke-width="0.55" stroke-dasharray="1.6 1.1"/>
<line x1="59.70" y1="436.64" x2="73.60" y2="438.16" stroke="#b8b8b8" stroke-width="0.55" stroke-dasharray="1.6 1.1"/>
<line x1="59.70" y1="438.54" x2="73.60" y2="439.29" stroke="#b8b8b8" stroke-width="0.55" stroke-dasharray="1.6 1.1"/>
<line x1="73.60" y1="440.43" x2="87.70" y2="432.85" stroke="#b8b8b8" stroke-width="0.55" stroke-dasharray="1.6 1.1"/>
<line x1="73.60" y1="443.46" x2="87.70" y2="429.06" stroke="#b8b8b8" stroke-width="0.55" stroke-dasharray="1.6 1.1"/>
<line x1="73.60" y1="446.12" x2="87.70" y2="437.78" stroke="#b8b8b8" stroke-width="0.55" stroke-dasharray="1.6 1.1"/>
<line x1="73.60" y1="444.98" x2="87.70" y2="440.43" stroke="#b8b8b8" stroke-width="0.55" stroke-dasharray="1.6 1.1"/>
<line x1="73.60" y1="434.75" x2="87.70" y2="423.38" stroke="#b8b8b8" stroke-width="0.55" stroke-dasharray="1.6 1.1"/>
<line x1="73.60" y1="436.64" x2="87.70" y2="434.75" stroke="#b8b8b8" stroke-width="0.55" stroke-dasharray="1.6 1.1"/>
<line x1="73.60" y1="441.57" x2="87.70" y2="430.96" stroke="#b8b8b8" stroke-width="0.55" stroke-dasharray="1.6 1.1"/>
<line x1="73.60" y1="438.16" x2="87.70" y2="439.29" stroke="#b8b8b8" stroke-width="0.55" stroke-dasharray="1.6 1.1"/>
<line x1="73.60" y1="439.29" x2="87.70" y2="436.64" stroke="#b8b8b8" stroke-width="0.55" stroke-dasharray="1.6 1.1"/>
<circle cx="45.60" cy="433.61" r="1.45" fill="#b4b4b4"/>
<circle cx="45.60" cy="436.64" r="1.45" fill="#b4b4b4"/>
<circle cx="45.60" cy="438.54" r="1.45" fill="#b4b4b4"/>
<circle cx="45.60" cy="439.67" r="1.45" fill="#b4b4b4"/>
<circle cx="45.60" cy="441.19" r="1.45" fill="#b4b4b4"/>
<circle cx="45.60" cy="442.32" r="1.45" fill="#b4b4b4"/>
<circle cx="45.60" cy="443.46" r="1.45" fill="#b4b4b4"/>
<circle cx="45.60" cy="444.98" r="1.45" fill="#b4b4b4"/>
<circle cx="45.60" cy="440.43" r="1.45" fill="#b4b4b4"/>
<circle cx="59.70" cy="423.38" r="1.45" fill="#b4b4b4"/>
<circle cx="59.70" cy="425.27" r="1.45" fill="#b4b4b4"/>
<circle cx="59.70" cy="427.17" r="1.45" fill="#b4b4b4"/>
<circle cx="59.70" cy="429.82" r="1.45" fill="#b4b4b4"/>
<circle cx="59.70" cy="432.85" r="1.45" fill="#b4b4b4"/>
<circle cx="59.70" cy="434.75" r="1.45" fill="#b4b4b4"/>
<circle cx="59.70" cy="436.64" r="1.45" fill="#b4b4b4"/>
<circle cx="59.70" cy="438.54" r="1.45" fill="#b4b4b4"/>
<circle cx="59.70" cy="440.43" r="1.45" fill="#b4b4b4"/>
<circle cx="73.60" cy="434.75" r="1.45" fill="#b4b4b4"/>
<circle cx="73.60" cy="436.64" r="1.45" fill="#b4b4b4"/>
<circle cx="73.60" cy="438.16" r="1.45" fill="#b4b4b4"/>
<circle cx="73.60" cy="439.29" r="1.45" fill="#b4b4b4"/>
<circle cx="73.60" cy="440.43" r="1.45" fill="#b4b4b4"/>
<circle cx="73.60" cy="441.57" r="1.45" fill="#b4b4b4"/>
<circle cx="73.60" cy="443.46" r="1.45" fill="#b4b4b4"/>
<circle cx="73.60" cy="444.98" r="1.45" fill="#b4b4b4"/>
<circle cx="73.60" cy="446.12" r="1.45" fill="#b4b4b4"/>
<circle cx="87.70" cy="423.38" r="1.45" fill="#b4b4b4"/>
<circle cx="87.70" cy="429.06" r="1.45" fill="#b4b4b4"/>
<circle cx="87.70" cy="430.96" r="1.45" fill="#b4b4b4"/>
<circle cx="87.70" cy="432.85" r="1.45" fill="#b4b4b4"/>
<circle cx="87.70" cy="434.75" r="1.45" fill="#b4b4b4"/>
<circle cx="87.70" cy="436.64" r="1.45" fill="#b4b4b4"/>
<circle cx="87.70" cy="437.78" r="1.45" fill="#b4b4b4"/>
<circle cx="87.70" cy="439.29" r="1.45" fill="#b4b4b4"/>
<circle cx="87.70" cy="440.43" r="1.45" fill="#b4b4b4"/>
<circle cx="45.60" cy="440.43" r="2.8" fill="#8dc0dc"/>
<circle cx="59.70" cy="431.71" r="2.8" fill="#2b6ea8"/>
<circle cx="73.60" cy="440.05" r="2.8" fill="#f4959a"/>
<circle cx="87.70" cy="433.23" r="2.8" fill="#d42a2a"/>
<line x1="116.40" y1="434.75" x2="130.80" y2="440.43" stroke="#b8b8b8" stroke-width="0.55" stroke-dasharray="1.6 1.1"/>
<line x1="116.40" y1="436.64" x2="130.80" y2="321.05" stroke="#b8b8b8" stroke-width="0.55" stroke-dasharray="1.6 1.1"/>
<line x1="116.40" y1="438.54" x2="130.80" y2="438.54" stroke="#b8b8b8" stroke-width="0.55" stroke-dasharray="1.6 1.1"/>
<line x1="116.40" y1="440.43" x2="130.80" y2="436.64" stroke="#b8b8b8" stroke-width="0.55" stroke-dasharray="1.6 1.1"/>
<line x1="116.40" y1="442.32" x2="130.80" y2="432.85" stroke="#b8b8b8" stroke-width="0.55" stroke-dasharray="1.6 1.1"/>
<line x1="116.40" y1="444.22" x2="130.80" y2="434.75" stroke="#b8b8b8" stroke-width="0.55" stroke-dasharray="1.6 1.1"/>
<line x1="116.40" y1="447.25" x2="130.80" y2="443.46" stroke="#b8b8b8" stroke-width="0.55" stroke-dasharray="1.6 1.1"/>
<line x1="116.40" y1="449.91" x2="130.80" y2="434.75" stroke="#b8b8b8" stroke-width="0.55" stroke-dasharray="1.6 1.1"/>
<line x1="130.80" y1="440.43" x2="144.90" y2="438.54" stroke="#b8b8b8" stroke-width="0.55" stroke-dasharray="1.6 1.1"/>
<line x1="130.80" y1="321.05" x2="144.90" y2="441.57" stroke="#b8b8b8" stroke-width="0.55" stroke-dasharray="1.6 1.1"/>
<line x1="130.80" y1="438.54" x2="144.90" y2="447.25" stroke="#b8b8b8" stroke-width="0.55" stroke-dasharray="1.6 1.1"/>
<line x1="130.80" y1="436.64" x2="144.90" y2="440.43" stroke="#b8b8b8" stroke-width="0.55" stroke-dasharray="1.6 1.1"/>
<line x1="130.80" y1="432.85" x2="144.90" y2="444.22" stroke="#b8b8b8" stroke-width="0.55" stroke-dasharray="1.6 1.1"/>
<line x1="130.80" y1="434.75" x2="144.90" y2="442.32" stroke="#b8b8b8" stroke-width="0.55" stroke-dasharray="1.6 1.1"/>
<line x1="130.80" y1="443.46" x2="144.90" y2="446.12" stroke="#b8b8b8" stroke-width="0.55" stroke-dasharray="1.6 1.1"/>
<line x1="130.80" y1="434.75" x2="144.90" y2="439.67" stroke="#b8b8b8" stroke-width="0.55" stroke-dasharray="1.6 1.1"/>
<line x1="144.90" y1="438.54" x2="158.90" y2="441.19" stroke="#b8b8b8" stroke-width="0.55" stroke-dasharray="1.6 1.1"/>
<line x1="144.90" y1="441.57" x2="158.90" y2="438.91" stroke="#b8b8b8" stroke-width="0.55" stroke-dasharray="1.6 1.1"/>
<line x1="144.90" y1="447.25" x2="158.90" y2="438.16" stroke="#b8b8b8" stroke-width="0.55" stroke-dasharray="1.6 1.1"/>
<line x1="144.90" y1="440.43" x2="158.90" y2="442.32" stroke="#b8b8b8" stroke-width="0.55" stroke-dasharray="1.6 1.1"/>
<line x1="144.90" y1="444.22" x2="158.90" y2="437.40" stroke="#b8b8b8" stroke-width="0.55" stroke-dasharray="1.6 1.1"/>
<line x1="144.90" y1="442.32" x2="158.90" y2="439.67" stroke="#b8b8b8" stroke-width="0.55" stroke-dasharray="1.6 1.1"/>
<line x1="144.90" y1="446.12" x2="158.90" y2="440.43" stroke="#b8b8b8" stroke-width="0.55" stroke-dasharray="1.6 1.1"/>
<line x1="144.90" y1="439.67" x2="158.90" y2="443.46" stroke="#b8b8b8" stroke-width="0.55" stroke-dasharray="1.6 1.1"/>
<circle cx="116.40" cy="434.75" r="1.45" fill="#b4b4b4"/>
<circle cx="116.40" cy="436.64" r="1.45" fill="#b4b4b4"/>
<circle cx="116.40" cy="438.54" r="1.45" fill="#b4b4b4"/>
<circle cx="116.40" cy="440.43" r="1.45" fill="#b4b4b4"/>
<circle cx="116.40" cy="442.32" r="1.45" fill="#b4b4b4"/>
<circle cx="116.40" cy="444.22" r="1.45" fill="#b4b4b4"/>
<circle cx="116.40" cy="447.25" r="1.45" fill="#b4b4b4"/>
<circle cx="116.40" cy="449.91" r="1.45" fill="#b4b4b4"/>
<circle cx="130.80" cy="321.05" r="1.45" fill="#b4b4b4"/>
<circle cx="130.80" cy="432.85" r="1.45" fill="#b4b4b4"/>
<circle cx="130.80" cy="434.75" r="1.45" fill="#b4b4b4"/>
<circle cx="130.80" cy="436.64" r="1.45" fill="#b4b4b4"/>
<circle cx="130.80" cy="438.54" r="1.45" fill="#b4b4b4"/>
<circle cx="130.80" cy="440.43" r="1.45" fill="#b4b4b4"/>
<circle cx="130.80" cy="443.46" r="1.45" fill="#b4b4b4"/>
<circle cx="130.80" cy="434.75" r="1.45" fill="#b4b4b4"/>
<circle cx="144.90" cy="438.54" r="1.45" fill="#b4b4b4"/>
<circle cx="144.90" cy="439.67" r="1.45" fill="#b4b4b4"/>
<circle cx="144.90" cy="440.43" r="1.45" fill="#b4b4b4"/>
<circle cx="144.90" cy="441.57" r="1.45" fill="#b4b4b4"/>
<circle cx="144.90" cy="442.32" r="1.45" fill="#b4b4b4"/>
<circle cx="144.90" cy="444.22" r="1.45" fill="#b4b4b4"/>
<circle cx="144.90" cy="446.12" r="1.45" fill="#b4b4b4"/>
<circle cx="144.90" cy="447.25" r="1.45" fill="#b4b4b4"/>
<circle cx="158.90" cy="437.40" r="1.45" fill="#b4b4b4"/>
<circle cx="158.90" cy="438.16" r="1.45" fill="#b4b4b4"/>
<circle cx="158.90" cy="438.91" r="1.45" fill="#b4b4b4"/>
<circle cx="158.90" cy="439.67" r="1.45" fill="#b4b4b4"/>
<circle cx="158.90" cy="440.43" r="1.45" fill="#b4b4b4"/>
<circle cx="158.90" cy="441.19" r="1.45" fill="#b4b4b4"/>
<circle cx="158.90" cy="442.32" r="1.45" fill="#b4b4b4"/>
<circle cx="158.90" cy="443.46" r="1.45" fill="#b4b4b4"/>
<circle cx="116.40" cy="442.32" r="2.8" fill="#8dc0dc"/>
<line x1="130.80" y1="434.75" x2="130.80" y2="414.28" stroke="#2b6ea8" stroke-width="1.0"/>
<circle cx="130.80" cy="425.27" r="2.8" fill="#2b6ea8"/>
<circle cx="144.90" cy="442.32" r="2.8" fill="#f4959a"/>
<circle cx="158.90" cy="439.67" r="2.8" fill="#d42a2a"/>
<text transform="translate(48.40,457.30) rotate(-90)" font-family="Liberation Sans" font-size="7.7" fill="#231f20" stroke="#231f20" stroke-width="0.12" text-anchor="end">before SD</text>
<text transform="translate(62.50,457.30) rotate(-90)" font-family="Liberation Sans" font-size="7.7" fill="#231f20" stroke="#231f20" stroke-width="0.12" text-anchor="end">SD+Sal</text>
<text transform="translate(76.40,457.30) rotate(-90)" font-family="Liberation Sans" font-size="7.7" fill="#231f20" stroke="#231f20" stroke-width="0.12" text-anchor="end">before SD</text>
<text transform="translate(90.50,457.30) rotate(-90)" font-family="Liberation Sans" font-size="7.7" fill="#231f20" stroke="#231f20" stroke-width="0.12" text-anchor="end">SD+CNO</text>
<text transform="translate(119.20,457.30) rotate(-90)" font-family="Liberation Sans" font-size="7.7" fill="#231f20" stroke="#231f20" stroke-width="0.12" text-anchor="end">before SD</text>
<text transform="translate(133.60,457.30) rotate(-90)" font-family="Liberation Sans" font-size="7.7" fill="#231f20" stroke="#231f20" stroke-width="0.12" text-anchor="end">SD+Sal</text>
<text transform="translate(147.70,457.30) rotate(-90)" font-family="Liberation Sans" font-size="7.7" fill="#231f20" stroke="#231f20" stroke-width="0.12" text-anchor="end">before SD</text>
<text transform="translate(161.70,457.30) rotate(-90)" font-family="Liberation Sans" font-size="7.7" fill="#231f20" stroke="#231f20" stroke-width="0.12" text-anchor="end">SD+CNO</text>
<text transform="translate(7.6,382) rotate(-90)" font-family="Liberation Sans" font-size="8.4" fill="#231f20" stroke="#231f20" stroke-width="0.12" font-style="italic">P<tspan font-size="6.2" dy="2.8">ws</tspan></text>
<text x="176.60" y="275.40" font-family="Liberation Sans" font-size="15" fill="#231f20" font-weight="bold">f</text>
<text x="220.80" y="277.00" font-family="Liberation Sans" font-size="11.3" fill="#1a75bc" font-weight="bold">SD+Sal</text>
<text x="280.40" y="277.00" font-family="Liberation Sans" font-size="11.3" fill="#ec1c24" font-weight="bold">SD+CNO</text>
<text x="227.90" y="305.90" font-family="Liberation Sans" font-size="7.6" fill="#231f20" stroke="#231f20" stroke-width="0.12"><tspan font-style="italic">P</tspan> = 0.44</text>
<text x="286.80" y="305.90" font-family="Liberation Sans" font-size="7.6" fill="#231f20" stroke="#231f20" stroke-width="0.12"><tspan font-style="italic">P</tspan> = 0.063</text>
<line x1="216.50" y1="299.00" x2="216.50" y2="450.50" stroke="#a0a0a0" stroke-width="1.0"/>
<line x1="214.50" y1="299.00" x2="216.50" y2="299.00" stroke="#a0a0a0" stroke-width="0.8"/>
<text x="209.70" y="302.00" font-family="Liberation Sans" font-size="7.7" fill="#444" text-anchor="end" stroke="#444" stroke-width="0.12">0.4</text>
<line x1="214.50" y1="329.40" x2="216.50" y2="329.40" stroke="#a0a0a0" stroke-width="0.8"/>
<text x="209.70" y="332.40" font-family="Liberation Sans" font-size="7.7" fill="#444" text-anchor="end" stroke="#444" stroke-width="0.12">0.3</text>
<line x1="214.50" y1="359.80" x2="216.50" y2="359.80" stroke="#a0a0a0" stroke-width="0.8"/>
<text x="209.70" y="362.80" font-family="Liberation Sans" font-size="7.7" fill="#444" text-anchor="end" stroke="#444" stroke-width="0.12">0.2</text>
<line x1="214.50" y1="390.20" x2="216.50" y2="390.20" stroke="#a0a0a0" stroke-width="0.8"/>
<text x="209.70" y="393.20" font-family="Liberation Sans" font-size="7.7" fill="#444" text-anchor="end" stroke="#444" stroke-width="0.12">0.1</text>
<line x1="214.50" y1="420.60" x2="216.50" y2="420.60" stroke="#a0a0a0" stroke-width="0.8"/>
<text x="209.70" y="423.60" font-family="Liberation Sans" font-size="7.7" fill="#444" text-anchor="end" stroke="#444" stroke-width="0.12">0.0</text>
<line x1="214.50" y1="451.00" x2="216.50" y2="451.00" stroke="#a0a0a0" stroke-width="0.8"/>
<text x="209.70" y="454.00" font-family="Liberation Sans" font-size="7.7" fill="#444" text-anchor="end" stroke="#444" stroke-width="0.12">−0.1</text>
<line x1="216.00" y1="450.50" x2="266.70" y2="450.50" stroke="#a0a0a0" stroke-width="1.0"/>
<line x1="278.00" y1="450.50" x2="329.20" y2="450.50" stroke="#a0a0a0" stroke-width="1.0"/>
<line x1="230.20" y1="450.50" x2="230.20" y2="452.50" stroke="#a0a0a0" stroke-width="0.8"/>
<line x1="253.30" y1="450.50" x2="253.30" y2="452.50" stroke="#a0a0a0" stroke-width="0.8"/>
<line x1="292.30" y1="450.50" x2="292.30" y2="452.50" stroke="#a0a0a0" stroke-width="0.8"/>
<line x1="315.30" y1="450.50" x2="315.30" y2="452.50" stroke="#a0a0a0" stroke-width="0.8"/>
<line x1="217.50" y1="420.60" x2="266.50" y2="420.60" stroke="#b0b0b0" stroke-width="0.7" stroke-dasharray="2.2 2"/>
<line x1="278.50" y1="420.60" x2="329.20" y2="420.60" stroke="#b0b0b0" stroke-width="0.7" stroke-dasharray="2.2 2"/>
<rect x="224.25" y="409.05" width="11.90" height="8.51" fill="#fff" stroke="#c4c4c4" stroke-width="0.8"/>
<line x1="224.25" y1="412.39" x2="236.15" y2="412.39" stroke="#a8a8a8" stroke-width="0.9"/>
<circle cx="230.20" cy="407.53" r="2.05" fill="#5d5d63"/>
<circle cx="230.20" cy="408.44" r="2.05" fill="#5d5d63"/>
<circle cx="230.20" cy="409.35" r="2.05" fill="#5d5d63"/>
<circle cx="230.20" cy="410.26" r="2.05" fill="#5d5d63"/>
<circle cx="230.20" cy="411.18" r="2.05" fill="#5d5d63"/>
<circle cx="230.20" cy="412.09" r="2.05" fill="#5d5d63"/>
<circle cx="230.20" cy="413.00" r="2.05" fill="#5d5d63"/>
<circle cx="230.20" cy="413.91" r="2.05" fill="#5d5d63"/>
<circle cx="230.20" cy="414.82" r="2.05" fill="#5d5d63"/>
<circle cx="230.20" cy="415.74" r="2.05" fill="#5d5d63"/>
<circle cx="230.20" cy="416.95" r="2.05" fill="#5d5d63"/>
<circle cx="230.20" cy="418.17" r="2.05" fill="#5d5d63"/>
<circle cx="230.20" cy="419.38" r="2.05" fill="#5d5d63"/>
<circle cx="230.20" cy="420.60" r="2.05" fill="#5d5d63"/>
<circle cx="230.20" cy="422.12" r="2.05" fill="#5d5d63"/>
<rect x="247.45" y="412.39" width="11.70" height="3.04" fill="#fff" stroke="#c4c4c4" stroke-width="0.8"/>
<line x1="247.45" y1="414.52" x2="259.15" y2="414.52" stroke="#a8a8a8" stroke-width="0.9"/>
<circle cx="253.30" cy="317.24" r="2.05" fill="#2f9b72"/>
<circle cx="253.30" cy="408.44" r="2.05" fill="#2f9b72"/>
<circle cx="253.30" cy="411.48" r="2.05" fill="#2f9b72"/>
<circle cx="253.30" cy="413.30" r="2.05" fill="#2f9b72"/>
<circle cx="253.30" cy="414.52" r="2.05" fill="#2f9b72"/>
<circle cx="253.30" cy="415.74" r="2.05" fill="#2f9b72"/>
<circle cx="253.30" cy="417.56" r="2.05" fill="#2f9b72"/>
<circle cx="253.30" cy="419.69" r="2.05" fill="#2f9b72"/>
<circle cx="253.30" cy="423.03" r="2.05" fill="#2f9b72"/>
<rect x="286.45" y="412.09" width="11.70" height="6.38" fill="#fff" stroke="#c4c4c4" stroke-width="0.8"/>
<line x1="286.45" y1="415.74" x2="298.15" y2="415.74" stroke="#a8a8a8" stroke-width="0.9"/>
<circle cx="292.30" cy="408.44" r="2.05" fill="#5d5d63"/>
<circle cx="292.30" cy="409.66" r="2.05" fill="#5d5d63"/>
<circle cx="292.30" cy="410.87" r="2.05" fill="#5d5d63"/>
<circle cx="292.30" cy="412.09" r="2.05" fill="#5d5d63"/>
<circle cx="292.30" cy="413.30" r="2.05" fill="#5d5d63"/>
<circle cx="292.30" cy="414.52" r="2.05" fill="#5d5d63"/>
<circle cx="292.30" cy="415.74" r="2.05" fill="#5d5d63"/>
<circle cx="292.30" cy="416.95" r="2.05" fill="#5d5d63"/>
<circle cx="292.30" cy="418.17" r="2.05" fill="#5d5d63"/>
<circle cx="292.30" cy="419.69" r="2.05" fill="#5d5d63"/>
<circle cx="292.30" cy="421.82" r="2.05" fill="#5d5d63"/>
<rect x="309.30" y="417.26" width="12.00" height="3.34" fill="#fff" stroke="#c4c4c4" stroke-width="0.8"/>
<line x1="309.30" y1="419.69" x2="321.30" y2="419.69" stroke="#a8a8a8" stroke-width="0.9"/>
<circle cx="315.30" cy="413.00" r="2.05" fill="#2f9b72"/>
<circle cx="315.30" cy="414.52" r="2.05" fill="#2f9b72"/>
<circle cx="315.30" cy="416.04" r="2.05" fill="#2f9b72"/>
<circle cx="315.30" cy="417.56" r="2.05" fill="#2f9b72"/>
<circle cx="315.30" cy="418.78" r="2.05" fill="#2f9b72"/>
<circle cx="315.30" cy="423.03" r="2.05" fill="#2f9b72"/>
<circle cx="315.30" cy="425.46" r="2.05" fill="#2f9b72"/>
<text x="212.60" y="463.20" font-family="Liberation Sans" font-size="7.6" fill="#231f20" stroke="#231f20" stroke-width="0.12">mCherry</text>
<text x="243.40" y="463.20" font-family="Liberation Sans" font-size="7.6" fill="#231f20" stroke="#231f20" stroke-width="0.12">hM4Di</text>
<text x="276.30" y="463.20" font-family="Liberation Sans" font-size="7.6" fill="#231f20" stroke="#231f20" stroke-width="0.12">mCherry</text>
<text x="306.30" y="463.20" font-family="Liberation Sans" font-size="7.6" fill="#231f20" stroke="#231f20" stroke-width="0.12">hM4Di</text>
<text transform="translate(186.9,384.3) rotate(-90)" font-family="Liberation Sans" font-size="9.0" fill="#231f20" stroke="#231f20" stroke-width="0.12">Δ<tspan font-style="italic" dx="1.6">P</tspan><tspan font-size="6.4" dy="2.8" font-style="italic">ws</tspan></text>
<text x="345.50" y="275.40" font-family="Liberation Sans" font-size="15" fill="#231f20" font-weight="bold">g</text>
<text x="388.30" y="277.00" font-family="Liberation Sans" font-size="11.3" fill="#231f20" font-weight="bold">mCherry</text>
<text x="466.00" y="277.00" font-family="Liberation Sans" font-size="11.3" fill="#0a7a45" font-weight="bold">hM4Di</text>
<text x="367.60" y="291.60" font-family="Liberation Sans" font-size="7.6" fill="#231f20" stroke="#231f20" stroke-width="0.12"><tspan font-style="italic">P</tspan> =</text>
<text x="391.00" y="291.60" font-family="Liberation Sans" font-size="7.6" fill="#231f20" stroke="#231f20" stroke-width="0.12">0.015</text>
<text x="418.70" y="291.60" font-family="Liberation Sans" font-size="7.6" fill="#231f20" stroke="#231f20" stroke-width="0.12">0.042</text>
<text x="455.30" y="291.60" font-family="Liberation Sans" font-size="7.6" fill="#231f20" stroke="#231f20" stroke-width="0.12">4.0 × 10<tspan dy="-2.3" font-size="4.6">-3</tspan></text>
<text x="491.00" y="291.60" font-family="Liberation Sans" font-size="7.6" fill="#231f20" stroke="#231f20" stroke-width="0.12">0.65</text>
<path d="M393.30 296.50V293.70H407.60V296.50" fill="none" stroke="#555" stroke-width="0.8"/>
<path d="M421.30 296.50V293.70H435.60V296.50" fill="none" stroke="#555" stroke-width="0.8"/>
<path d="M464.30 296.50V293.70H478.30V296.50" fill="none" stroke="#555" stroke-width="0.8"/>
<path d="M492.60 296.50V293.70H506.20V296.50" fill="none" stroke="#555" stroke-width="0.8"/>
<line x1="385.50" y1="300.30" x2="385.50" y2="451.50" stroke="#c6c6c6" stroke-width="1.0"/>
<line x1="383.50" y1="300.30" x2="385.50" y2="300.30" stroke="#c6c6c6" stroke-width="0.8"/>
<text x="378.70" y="303.30" font-family="Liberation Sans" font-size="7.7" fill="#444" text-anchor="end" stroke="#444" stroke-width="0.12">0.2</text>
<line x1="383.50" y1="375.80" x2="385.50" y2="375.80" stroke="#c6c6c6" stroke-width="0.8"/>
<text x="378.70" y="378.80" font-family="Liberation Sans" font-size="7.7" fill="#444" text-anchor="end" stroke="#444" stroke-width="0.12">0.1</text>
<line x1="383.50" y1="451.30" x2="385.50" y2="451.30" stroke="#c6c6c6" stroke-width="0.8"/>
<text x="378.70" y="454.30" font-family="Liberation Sans" font-size="7.7" fill="#444" text-anchor="end" stroke="#444" stroke-width="0.12">0.0</text>
<line x1="385.00" y1="451.50" x2="442.60" y2="451.50" stroke="#929292" stroke-width="1.0"/>
<line x1="456.10" y1="451.50" x2="515.60" y2="451.50" stroke="#929292" stroke-width="1.0"/>
<line x1="393.30" y1="451.50" x2="393.30" y2="453.50" stroke="#929292" stroke-width="0.8"/>
<line x1="407.70" y1="451.50" x2="407.70" y2="453.50" stroke="#929292" stroke-width="0.8"/>
<line x1="421.20" y1="451.50" x2="421.20" y2="453.50" stroke="#929292" stroke-width="0.8"/>
<line x1="435.20" y1="451.50" x2="435.20" y2="453.50" stroke="#929292" stroke-width="0.8"/>
<line x1="464.30" y1="451.50" x2="464.30" y2="453.50" stroke="#929292" stroke-width="0.8"/>
<line x1="478.30" y1="451.50" x2="478.30" y2="453.50" stroke="#929292" stroke-width="0.8"/>
<line x1="492.60" y1="451.50" x2="492.60" y2="453.50" stroke="#929292" stroke-width="0.8"/>
<line x1="506.20" y1="451.50" x2="506.20" y2="453.50" stroke="#929292" stroke-width="0.8"/>
<line x1="393.30" y1="359.19" x2="407.70" y2="416.57" stroke="#b8b8b8" stroke-width="0.55" stroke-dasharray="1.6 1.1"/>
<line x1="393.30" y1="387.12" x2="407.70" y2="413.55" stroke="#b8b8b8" stroke-width="0.55" stroke-dasharray="1.6 1.1"/>
<line x1="393.30" y1="390.90" x2="407.70" y2="415.06" stroke="#b8b8b8" stroke-width="0.55" stroke-dasharray="1.6 1.1"/>
<line x1="393.30" y1="394.68" x2="407.70" y2="413.55" stroke="#b8b8b8" stroke-width="0.55" stroke-dasharray="1.6 1.1"/>
<line x1="393.30" y1="406.00" x2="407.70" y2="417.32" stroke="#b8b8b8" stroke-width="0.55" stroke-dasharray="1.6 1.1"/>
<line x1="393.30" y1="409.78" x2="407.70" y2="411.29" stroke="#b8b8b8" stroke-width="0.55" stroke-dasharray="1.6 1.1"/>
<line x1="393.30" y1="415.06" x2="407.70" y2="430.92" stroke="#b8b8b8" stroke-width="0.55" stroke-dasharray="1.6 1.1"/>
<line x1="393.30" y1="417.32" x2="407.70" y2="419.59" stroke="#b8b8b8" stroke-width="0.55" stroke-dasharray="1.6 1.1"/>
<line x1="393.30" y1="399.96" x2="407.70" y2="409.78" stroke="#b8b8b8" stroke-width="0.55" stroke-dasharray="1.6 1.1"/>
<line x1="393.30" y1="413.55" x2="407.70" y2="412.04" stroke="#b8b8b8" stroke-width="0.55" stroke-dasharray="1.6 1.1"/>
<line x1="393.30" y1="402.23" x2="407.70" y2="418.08" stroke="#b8b8b8" stroke-width="0.55" stroke-dasharray="1.6 1.1"/>
<line x1="407.70" y1="416.57" x2="421.20" y2="409.78" stroke="#b8b8b8" stroke-width="0.55" stroke-dasharray="1.6 1.1"/>
<line x1="407.70" y1="413.55" x2="421.20" y2="394.68" stroke="#b8b8b8" stroke-width="0.55" stroke-dasharray="1.6 1.1"/>
<line x1="407.70" y1="415.06" x2="421.20" y2="421.10" stroke="#b8b8b8" stroke-width="0.55" stroke-dasharray="1.6 1.1"/>
<line x1="407.70" y1="413.55" x2="421.20" y2="417.32" stroke="#b8b8b8" stroke-width="0.55" stroke-dasharray="1.6 1.1"/>
<line x1="407.70" y1="417.32" x2="421.20" y2="398.45" stroke="#b8b8b8" stroke-width="0.55" stroke-dasharray="1.6 1.1"/>
<line x1="407.70" y1="411.29" x2="421.20" y2="366.74" stroke="#b8b8b8" stroke-width="0.55" stroke-dasharray="1.6 1.1"/>
<line x1="407.70" y1="430.92" x2="421.20" y2="369.76" stroke="#b8b8b8" stroke-width="0.55" stroke-dasharray="1.6 1.1"/>
<line x1="407.70" y1="419.59" x2="421.20" y2="413.55" stroke="#b8b8b8" stroke-width="0.55" stroke-dasharray="1.6 1.1"/>
<line x1="407.70" y1="409.78" x2="421.20" y2="362.21" stroke="#b8b8b8" stroke-width="0.55" stroke-dasharray="1.6 1.1"/>
<line x1="407.70" y1="412.04" x2="421.20" y2="406.00" stroke="#b8b8b8" stroke-width="0.55" stroke-dasharray="1.6 1.1"/>
<line x1="407.70" y1="418.08" x2="421.20" y2="426.38" stroke="#b8b8b8" stroke-width="0.55" stroke-dasharray="1.6 1.1"/>
<line x1="421.20" y1="409.78" x2="435.20" y2="415.06" stroke="#b8b8b8" stroke-width="0.55" stroke-dasharray="1.6 1.1"/>
<line x1="421.20" y1="394.68" x2="435.20" y2="406.00" stroke="#b8b8b8" stroke-width="0.55" stroke-dasharray="1.6 1.1"/>
<line x1="421.20" y1="421.10" x2="435.20" y2="412.04" stroke="#b8b8b8" stroke-width="0.55" stroke-dasharray="1.6 1.1"/>
<line x1="421.20" y1="417.32" x2="435.20" y2="400.72" stroke="#b8b8b8" stroke-width="0.55" stroke-dasharray="1.6 1.1"/>
<line x1="421.20" y1="398.45" x2="435.20" y2="421.10" stroke="#b8b8b8" stroke-width="0.55" stroke-dasharray="1.6 1.1"/>
<line x1="421.20" y1="366.74" x2="435.20" y2="424.88" stroke="#b8b8b8" stroke-width="0.55" stroke-dasharray="1.6 1.1"/>
<line x1="421.20" y1="369.76" x2="435.20" y2="427.14" stroke="#b8b8b8" stroke-width="0.55" stroke-dasharray="1.6 1.1"/>
<line x1="421.20" y1="413.55" x2="435.20" y2="422.61" stroke="#b8b8b8" stroke-width="0.55" stroke-dasharray="1.6 1.1"/>
<line x1="421.20" y1="362.21" x2="435.20" y2="409.78" stroke="#b8b8b8" stroke-width="0.55" stroke-dasharray="1.6 1.1"/>
<line x1="421.20" y1="406.00" x2="435.20" y2="417.32" stroke="#b8b8b8" stroke-width="0.55" stroke-dasharray="1.6 1.1"/>
<line x1="421.20" y1="426.38" x2="435.20" y2="413.55" stroke="#b8b8b8" stroke-width="0.55" stroke-dasharray="1.6 1.1"/>
<circle cx="393.30" cy="359.19" r="1.45" fill="#b4b4b4"/>
<circle cx="393.30" cy="387.12" r="1.45" fill="#b4b4b4"/>
<circle cx="393.30" cy="390.90" r="1.45" fill="#b4b4b4"/>
<circle cx="393.30" cy="394.68" r="1.45" fill="#b4b4b4"/>
<circle cx="393.30" cy="406.00" r="1.45" fill="#b4b4b4"/>
<circle cx="393.30" cy="409.78" r="1.45" fill="#b4b4b4"/>
<circle cx="393.30" cy="415.06" r="1.45" fill="#b4b4b4"/>
<circle cx="393.30" cy="417.32" r="1.45" fill="#b4b4b4"/>
<circle cx="393.30" cy="399.96" r="1.45" fill="#b4b4b4"/>
<circle cx="393.30" cy="413.55" r="1.45" fill="#b4b4b4"/>
<circle cx="393.30" cy="402.23" r="1.45" fill="#b4b4b4"/>
<circle cx="407.70" cy="409.78" r="1.45" fill="#b4b4b4"/>
<circle cx="407.70" cy="412.04" r="1.45" fill="#b4b4b4"/>
<circle cx="407.70" cy="413.55" r="1.45" fill="#b4b4b4"/>
<circle cx="407.70" cy="417.32" r="1.45" fill="#b4b4b4"/>
<circle cx="407.70" cy="419.59" r="1.45" fill="#b4b4b4"/>
<circle cx="407.70" cy="430.92" r="1.45" fill="#b4b4b4"/>
<circle cx="407.70" cy="415.06" r="1.45" fill="#b4b4b4"/>
<circle cx="407.70" cy="411.29" r="1.45" fill="#b4b4b4"/>
<circle cx="407.70" cy="416.57" r="1.45" fill="#b4b4b4"/>
<circle cx="407.70" cy="413.55" r="1.45" fill="#b4b4b4"/>
<circle cx="407.70" cy="418.08" r="1.45" fill="#b4b4b4"/>
<circle cx="421.20" cy="362.21" r="1.45" fill="#b4b4b4"/>
<circle cx="421.20" cy="366.74" r="1.45" fill="#b4b4b4"/>
<circle cx="421.20" cy="369.76" r="1.45" fill="#b4b4b4"/>
<circle cx="421.20" cy="394.68" r="1.45" fill="#b4b4b4"/>
<circle cx="421.20" cy="398.45" r="1.45" fill="#b4b4b4"/>
<circle cx="421.20" cy="406.00" r="1.45" fill="#b4b4b4"/>
<circle cx="421.20" cy="409.78" r="1.45" fill="#b4b4b4"/>
<circle cx="421.20" cy="413.55" r="1.45" fill="#b4b4b4"/>
<circle cx="421.20" cy="417.32" r="1.45" fill="#b4b4b4"/>
<circle cx="421.20" cy="421.10" r="1.45" fill="#b4b4b4"/>
<circle cx="421.20" cy="426.38" r="1.45" fill="#b4b4b4"/>
<circle cx="435.20" cy="400.72" r="1.45" fill="#b4b4b4"/>
<circle cx="435.20" cy="406.00" r="1.45" fill="#b4b4b4"/>
<circle cx="435.20" cy="409.78" r="1.45" fill="#b4b4b4"/>
<circle cx="435.20" cy="413.55" r="1.45" fill="#b4b4b4"/>
<circle cx="435.20" cy="417.32" r="1.45" fill="#b4b4b4"/>
<circle cx="435.20" cy="421.10" r="1.45" fill="#b4b4b4"/>
<circle cx="435.20" cy="424.88" r="1.45" fill="#b4b4b4"/>
<circle cx="435.20" cy="427.14" r="1.45" fill="#b4b4b4"/>
<circle cx="435.20" cy="415.06" r="1.45" fill="#b4b4b4"/>
<circle cx="435.20" cy="412.04" r="1.45" fill="#b4b4b4"/>
<circle cx="435.20" cy="422.61" r="1.45" fill="#b4b4b4"/>
<circle cx="393.30" cy="399.96" r="2.8" fill="#8dc0dc"/>
<circle cx="407.70" cy="414.31" r="2.8" fill="#2b6ea8"/>
<circle cx="421.20" cy="399.96" r="2.8" fill="#f4959a"/>
<circle cx="435.20" cy="415.06" r="2.8" fill="#d42a2a"/>
<line x1="464.30" y1="392.41" x2="478.30" y2="421.10" stroke="#b8b8b8" stroke-width="0.55" stroke-dasharray="1.6 1.1"/>
<line x1="464.30" y1="406.00" x2="478.30" y2="434.69" stroke="#b8b8b8" stroke-width="0.55" stroke-dasharray="1.6 1.1"/>
<line x1="464.30" y1="409.78" x2="478.30" y2="446.01" stroke="#b8b8b8" stroke-width="0.55" stroke-dasharray="1.6 1.1"/>
<line x1="464.30" y1="413.55" x2="478.30" y2="428.65" stroke="#b8b8b8" stroke-width="0.55" stroke-dasharray="1.6 1.1"/>
<line x1="464.30" y1="417.32" x2="478.30" y2="426.38" stroke="#b8b8b8" stroke-width="0.55" stroke-dasharray="1.6 1.1"/>
<line x1="464.30" y1="421.10" x2="478.30" y2="432.43" stroke="#b8b8b8" stroke-width="0.55" stroke-dasharray="1.6 1.1"/>
<line x1="464.30" y1="424.88" x2="478.30" y2="424.88" stroke="#b8b8b8" stroke-width="0.55" stroke-dasharray="1.6 1.1"/>
<line x1="464.30" y1="428.65" x2="478.30" y2="436.20" stroke="#b8b8b8" stroke-width="0.55" stroke-dasharray="1.6 1.1"/>
<line x1="464.30" y1="432.43" x2="478.30" y2="430.16" stroke="#b8b8b8" stroke-width="0.55" stroke-dasharray="1.6 1.1"/>
<line x1="478.30" y1="421.10" x2="492.60" y2="413.55" stroke="#b8b8b8" stroke-width="0.55" stroke-dasharray="1.6 1.1"/>
<line x1="478.30" y1="434.69" x2="492.60" y2="406.00" stroke="#b8b8b8" stroke-width="0.55" stroke-dasharray="1.6 1.1"/>
<line x1="478.30" y1="446.01" x2="492.60" y2="421.10" stroke="#b8b8b8" stroke-width="0.55" stroke-dasharray="1.6 1.1"/>
<line x1="478.30" y1="428.65" x2="492.60" y2="417.32" stroke="#b8b8b8" stroke-width="0.55" stroke-dasharray="1.6 1.1"/>
<line x1="478.30" y1="426.38" x2="492.60" y2="372.03" stroke="#b8b8b8" stroke-width="0.55" stroke-dasharray="1.6 1.1"/>
<line x1="478.30" y1="432.43" x2="492.60" y2="409.02" stroke="#b8b8b8" stroke-width="0.55" stroke-dasharray="1.6 1.1"/>
<line x1="478.30" y1="424.88" x2="492.60" y2="384.86" stroke="#b8b8b8" stroke-width="0.55" stroke-dasharray="1.6 1.1"/>
<line x1="478.30" y1="436.20" x2="492.60" y2="434.69" stroke="#b8b8b8" stroke-width="0.55" stroke-dasharray="1.6 1.1"/>
<line x1="478.30" y1="430.16" x2="492.60" y2="432.43" stroke="#b8b8b8" stroke-width="0.55" stroke-dasharray="1.6 1.1"/>
<line x1="492.60" y1="413.55" x2="506.20" y2="421.10" stroke="#b8b8b8" stroke-width="0.55" stroke-dasharray="1.6 1.1"/>
<line x1="492.60" y1="406.00" x2="506.20" y2="426.38" stroke="#b8b8b8" stroke-width="0.55" stroke-dasharray="1.6 1.1"/>
<line x1="492.60" y1="421.10" x2="506.20" y2="417.32" stroke="#b8b8b8" stroke-width="0.55" stroke-dasharray="1.6 1.1"/>
<line x1="492.60" y1="417.32" x2="506.20" y2="390.90" stroke="#b8b8b8" stroke-width="0.55" stroke-dasharray="1.6 1.1"/>
<line x1="492.60" y1="372.03" x2="506.20" y2="384.86" stroke="#b8b8b8" stroke-width="0.55" stroke-dasharray="1.6 1.1"/>
<line x1="492.60" y1="409.02" x2="506.20" y2="409.78" stroke="#b8b8b8" stroke-width="0.55" stroke-dasharray="1.6 1.1"/>
<line x1="492.60" y1="384.86" x2="506.20" y2="413.55" stroke="#b8b8b8" stroke-width="0.55" stroke-dasharray="1.6 1.1"/>
<line x1="492.60" y1="434.69" x2="506.20" y2="368.25" stroke="#b8b8b8" stroke-width="0.55" stroke-dasharray="1.6 1.1"/>
<line x1="492.60" y1="432.43" x2="506.20" y2="402.23" stroke="#b8b8b8" stroke-width="0.55" stroke-dasharray="1.6 1.1"/>
<circle cx="464.30" cy="392.41" r="1.45" fill="#b4b4b4"/>
<circle cx="464.30" cy="406.00" r="1.45" fill="#b4b4b4"/>
<circle cx="464.30" cy="409.78" r="1.45" fill="#b4b4b4"/>
<circle cx="464.30" cy="413.55" r="1.45" fill="#b4b4b4"/>
<circle cx="464.30" cy="417.32" r="1.45" fill="#b4b4b4"/>
<circle cx="464.30" cy="421.10" r="1.45" fill="#b4b4b4"/>
<circle cx="464.30" cy="424.88" r="1.45" fill="#b4b4b4"/>
<circle cx="464.30" cy="428.65" r="1.45" fill="#b4b4b4"/>
<circle cx="464.30" cy="432.43" r="1.45" fill="#b4b4b4"/>
<circle cx="478.30" cy="421.10" r="1.45" fill="#b4b4b4"/>
<circle cx="478.30" cy="424.88" r="1.45" fill="#b4b4b4"/>
<circle cx="478.30" cy="428.65" r="1.45" fill="#b4b4b4"/>
<circle cx="478.30" cy="432.43" r="1.45" fill="#b4b4b4"/>
<circle cx="478.30" cy="436.20" r="1.45" fill="#b4b4b4"/>
<circle cx="478.30" cy="446.01" r="1.45" fill="#b4b4b4"/>
<circle cx="478.30" cy="430.16" r="1.45" fill="#b4b4b4"/>
<circle cx="478.30" cy="426.38" r="1.45" fill="#b4b4b4"/>
<circle cx="478.30" cy="434.69" r="1.45" fill="#b4b4b4"/>
<circle cx="492.60" cy="372.03" r="1.45" fill="#b4b4b4"/>
<circle cx="492.60" cy="384.86" r="1.45" fill="#b4b4b4"/>
<circle cx="492.60" cy="406.00" r="1.45" fill="#b4b4b4"/>
<circle cx="492.60" cy="413.55" r="1.45" fill="#b4b4b4"/>
<circle cx="492.60" cy="421.10" r="1.45" fill="#b4b4b4"/>
<circle cx="492.60" cy="432.43" r="1.45" fill="#b4b4b4"/>
<circle cx="492.60" cy="434.69" r="1.45" fill="#b4b4b4"/>
<circle cx="492.60" cy="409.02" r="1.45" fill="#b4b4b4"/>
<circle cx="492.60" cy="417.32" r="1.45" fill="#b4b4b4"/>
<circle cx="506.20" cy="368.25" r="1.45" fill="#b4b4b4"/>
<circle cx="506.20" cy="384.86" r="1.45" fill="#b4b4b4"/>
<circle cx="506.20" cy="390.90" r="1.45" fill="#b4b4b4"/>
<circle cx="506.20" cy="402.23" r="1.45" fill="#b4b4b4"/>
<circle cx="506.20" cy="409.78" r="1.45" fill="#b4b4b4"/>
<circle cx="506.20" cy="417.32" r="1.45" fill="#b4b4b4"/>
<circle cx="506.20" cy="421.10" r="1.45" fill="#b4b4b4"/>
<circle cx="506.20" cy="426.38" r="1.45" fill="#b4b4b4"/>
<circle cx="506.20" cy="413.55" r="1.45" fill="#b4b4b4"/>
<circle cx="464.30" cy="416.57" r="2.8" fill="#8dc0dc"/>
<circle cx="478.30" cy="430.16" r="2.8" fill="#2b6ea8"/>
<line x1="492.60" y1="413.55" x2="492.60" y2="402.98" stroke="#f4959a" stroke-width="1.0"/>
<circle cx="492.60" cy="409.02" r="2.8" fill="#f4959a"/>
<line x1="506.20" y1="410.53" x2="506.20" y2="398.45" stroke="#d42a2a" stroke-width="1.0"/>
<circle cx="506.20" cy="404.49" r="2.8" fill="#d42a2a"/>
<text transform="translate(396.10,457.30) rotate(-90)" font-family="Liberation Sans" font-size="7.7" fill="#231f20" stroke="#231f20" stroke-width="0.12" text-anchor="end">before SD</text>
<text transform="translate(410.50,457.30) rotate(-90)" font-family="Liberation Sans" font-size="7.7" fill="#231f20" stroke="#231f20" stroke-width="0.12" text-anchor="end">SD+Sal</text>
<text transform="translate(424.00,457.30) rotate(-90)" font-family="Liberation Sans" font-size="7.7" fill="#231f20" stroke="#231f20" stroke-width="0.12" text-anchor="end">before SD</text>
<text transform="translate(438.00,457.30) rotate(-90)" font-family="Liberation Sans" font-size="7.7" fill="#231f20" stroke="#231f20" stroke-width="0.12" text-anchor="end">SD+CNO</text>
<text transform="translate(467.10,457.30) rotate(-90)" font-family="Liberation Sans" font-size="7.7" fill="#231f20" stroke="#231f20" stroke-width="0.12" text-anchor="end">before SD</text>
<text transform="translate(481.10,457.30) rotate(-90)" font-family="Liberation Sans" font-size="7.7" fill="#231f20" stroke="#231f20" stroke-width="0.12" text-anchor="end">SD+Sal</text>
<text transform="translate(495.40,457.30) rotate(-90)" font-family="Liberation Sans" font-size="7.7" fill="#231f20" stroke="#231f20" stroke-width="0.12" text-anchor="end">before SD</text>
<text transform="translate(509.00,457.30) rotate(-90)" font-family="Liberation Sans" font-size="7.7" fill="#231f20" stroke="#231f20" stroke-width="0.12" text-anchor="end">SD+CNO</text>
<text transform="translate(356.0,382.0) rotate(-90)" font-family="Liberation Sans" font-size="8.4" fill="#231f20" stroke="#231f20" stroke-width="0.12" font-style="italic">P<tspan font-size="6.2" dy="2.8">sw</tspan></text>
<text x="527.60" y="275.40" font-family="Liberation Sans" font-size="15" fill="#231f20" font-weight="bold">h</text>
<text x="570.10" y="277.00" font-family="Liberation Sans" font-size="11.3" fill="#1a75bc" font-weight="bold">SD+Sal</text>
<text x="629.00" y="277.00" font-family="Liberation Sans" font-size="11.3" fill="#ec1c24" font-weight="bold">SD+CNO</text>
<text x="577.60" y="305.90" font-family="Liberation Sans" font-size="7.6" fill="#231f20" stroke="#231f20" stroke-width="0.12"><tspan font-style="italic">P</tspan> = 0.95</text>
<text x="636.80" y="305.90" font-family="Liberation Sans" font-size="7.6" fill="#231f20" stroke="#231f20" stroke-width="0.12"><tspan font-style="italic">P</tspan> = 0.025</text>
<line x1="565.50" y1="298.20" x2="565.50" y2="450.50" stroke="#b8b8b8" stroke-width="1.0"/>
<line x1="563.50" y1="298.20" x2="565.50" y2="298.20" stroke="#b8b8b8" stroke-width="0.8"/>
<text x="558.70" y="301.20" font-family="Liberation Sans" font-size="7.7" fill="#444" text-anchor="end" stroke="#444" stroke-width="0.12">0.1</text>
<line x1="563.50" y1="374.10" x2="565.50" y2="374.10" stroke="#b8b8b8" stroke-width="0.8"/>
<text x="558.70" y="377.10" font-family="Liberation Sans" font-size="7.7" fill="#444" text-anchor="end" stroke="#444" stroke-width="0.12">0.0</text>
<line x1="563.50" y1="450.00" x2="565.50" y2="450.00" stroke="#b8b8b8" stroke-width="0.8"/>
<text x="558.70" y="453.00" font-family="Liberation Sans" font-size="7.7" fill="#444" text-anchor="end" stroke="#444" stroke-width="0.12">−0.1</text>
<line x1="565.00" y1="450.50" x2="617.30" y2="450.50" stroke="#9a9a9a" stroke-width="1.0"/>
<line x1="627.60" y1="450.50" x2="680.10" y2="450.50" stroke="#9a9a9a" stroke-width="1.0"/>
<line x1="580.40" y1="450.50" x2="580.40" y2="452.50" stroke="#9a9a9a" stroke-width="0.8"/>
<line x1="603.00" y1="450.50" x2="603.00" y2="452.50" stroke="#9a9a9a" stroke-width="0.8"/>
<line x1="642.70" y1="450.50" x2="642.70" y2="452.50" stroke="#9a9a9a" stroke-width="0.8"/>
<line x1="665.70" y1="450.50" x2="665.70" y2="452.50" stroke="#9a9a9a" stroke-width="0.8"/>
<line x1="566.00" y1="374.10" x2="617.00" y2="374.10" stroke="#b0b0b0" stroke-width="0.7" stroke-dasharray="2.2 2"/>
<line x1="628.00" y1="374.10" x2="680.10" y2="374.10" stroke="#b0b0b0" stroke-width="0.7" stroke-dasharray="2.2 2"/>
<rect x="575.05" y="376.38" width="10.70" height="18.98" fill="#fff" stroke="#c4c4c4" stroke-width="0.8"/>
<line x1="575.05" y1="387.00" x2="585.75" y2="387.00" stroke="#a8a8a8" stroke-width="0.9"/>
<circle cx="580.40" cy="367.27" r="2.05" fill="#5d5d63"/>
<circle cx="580.40" cy="370.31" r="2.05" fill="#5d5d63"/>
<circle cx="580.40" cy="374.10" r="2.05" fill="#5d5d63"/>
<circle cx="580.40" cy="377.14" r="2.05" fill="#5d5d63"/>
<circle cx="580.40" cy="380.93" r="2.05" fill="#5d5d63"/>
<circle cx="580.40" cy="385.49" r="2.05" fill="#5d5d63"/>
<circle cx="580.40" cy="389.28" r="2.05" fill="#5d5d63"/>
<circle cx="580.40" cy="394.59" r="2.05" fill="#5d5d63"/>
<circle cx="580.40" cy="399.15" r="2.05" fill="#5d5d63"/>
<circle cx="580.40" cy="435.58" r="2.05" fill="#5d5d63"/>
<rect x="597.85" y="382.45" width="10.30" height="10.63" fill="#fff" stroke="#c4c4c4" stroke-width="0.8"/>
<line x1="597.85" y1="387.00" x2="608.15" y2="387.00" stroke="#a8a8a8" stroke-width="0.9"/>
<circle cx="603.00" cy="374.10" r="2.05" fill="#2f9b72"/>
<circle cx="603.00" cy="377.14" r="2.05" fill="#2f9b72"/>
<circle cx="603.00" cy="380.17" r="2.05" fill="#2f9b72"/>
<circle cx="603.00" cy="383.21" r="2.05" fill="#2f9b72"/>
<circle cx="603.00" cy="387.00" r="2.05" fill="#2f9b72"/>
<circle cx="603.00" cy="394.59" r="2.05" fill="#2f9b72"/>
<circle cx="603.00" cy="399.15" r="2.05" fill="#2f9b72"/>
<circle cx="603.00" cy="404.46" r="2.05" fill="#2f9b72"/>
<line x1="642.70" y1="427.99" x2="642.70" y2="399.91" stroke="#c8c8c8" stroke-width="0.8"/>
<line x1="642.70" y1="371.06" x2="642.70" y2="359.68" stroke="#c8c8c8" stroke-width="0.8"/>
<rect x="637.35" y="371.06" width="10.70" height="28.84" fill="#fff" stroke="#c4c4c4" stroke-width="0.8"/>
<line x1="637.35" y1="387.00" x2="648.05" y2="387.00" stroke="#a8a8a8" stroke-width="0.9"/>
<circle cx="642.70" cy="359.68" r="2.05" fill="#5d5d63"/>
<circle cx="642.70" cy="364.23" r="2.05" fill="#5d5d63"/>
<circle cx="642.70" cy="367.27" r="2.05" fill="#5d5d63"/>
<circle cx="642.70" cy="371.82" r="2.05" fill="#5d5d63"/>
<circle cx="642.70" cy="377.90" r="2.05" fill="#5d5d63"/>
<circle cx="642.70" cy="383.21" r="2.05" fill="#5d5d63"/>
<circle cx="642.70" cy="386.24" r="2.05" fill="#5d5d63"/>
<circle cx="642.70" cy="393.08" r="2.05" fill="#5d5d63"/>
<circle cx="642.70" cy="419.64" r="2.05" fill="#5d5d63"/>
<circle cx="642.70" cy="427.99" r="2.05" fill="#5d5d63"/>
<line x1="665.70" y1="394.59" x2="665.70" y2="382.45" stroke="#c8c8c8" stroke-width="0.8"/>
<line x1="665.70" y1="361.96" x2="665.70" y2="347.54" stroke="#c8c8c8" stroke-width="0.8"/>
<rect x="660.00" y="361.96" width="11.40" height="20.49" fill="#fff" stroke="#c4c4c4" stroke-width="0.8"/>
<line x1="660.00" y1="368.79" x2="671.40" y2="368.79" stroke="#a8a8a8" stroke-width="0.9"/>
<circle cx="665.70" cy="347.54" r="2.05" fill="#2f9b72"/>
<circle cx="665.70" cy="356.64" r="2.05" fill="#2f9b72"/>
<circle cx="665.70" cy="361.20" r="2.05" fill="#2f9b72"/>
<circle cx="665.70" cy="366.51" r="2.05" fill="#2f9b72"/>
<circle cx="665.70" cy="371.06" r="2.05" fill="#2f9b72"/>
<circle cx="665.70" cy="379.41" r="2.05" fill="#2f9b72"/>
<circle cx="665.70" cy="383.21" r="2.05" fill="#2f9b72"/>
<circle cx="665.70" cy="394.59" r="2.05" fill="#2f9b72"/>
<text x="563.00" y="462.30" font-family="Liberation Sans" font-size="7.6" fill="#231f20" stroke="#231f20" stroke-width="0.12">mCherry</text>
<text x="593.60" y="462.30" font-family="Liberation Sans" font-size="7.6" fill="#231f20" stroke="#231f20" stroke-width="0.12">hM4Di</text>
<text x="626.50" y="462.30" font-family="Liberation Sans" font-size="7.6" fill="#231f20" stroke="#231f20" stroke-width="0.12">mCherry</text>
<text x="657.30" y="462.30" font-family="Liberation Sans" font-size="7.6" fill="#231f20" stroke="#231f20" stroke-width="0.12">hM4Di</text>
<text transform="translate(536.9,384.2) rotate(-90)" font-family="Liberation Sans" font-size="9.0" fill="#231f20" stroke="#231f20" stroke-width="0.12">Δ<tspan font-style="italic" dx="1.6">P</tspan><tspan font-size="6.4" dy="2.8" font-style="italic">sw</tspan></text>
</svg>
</body></html>
